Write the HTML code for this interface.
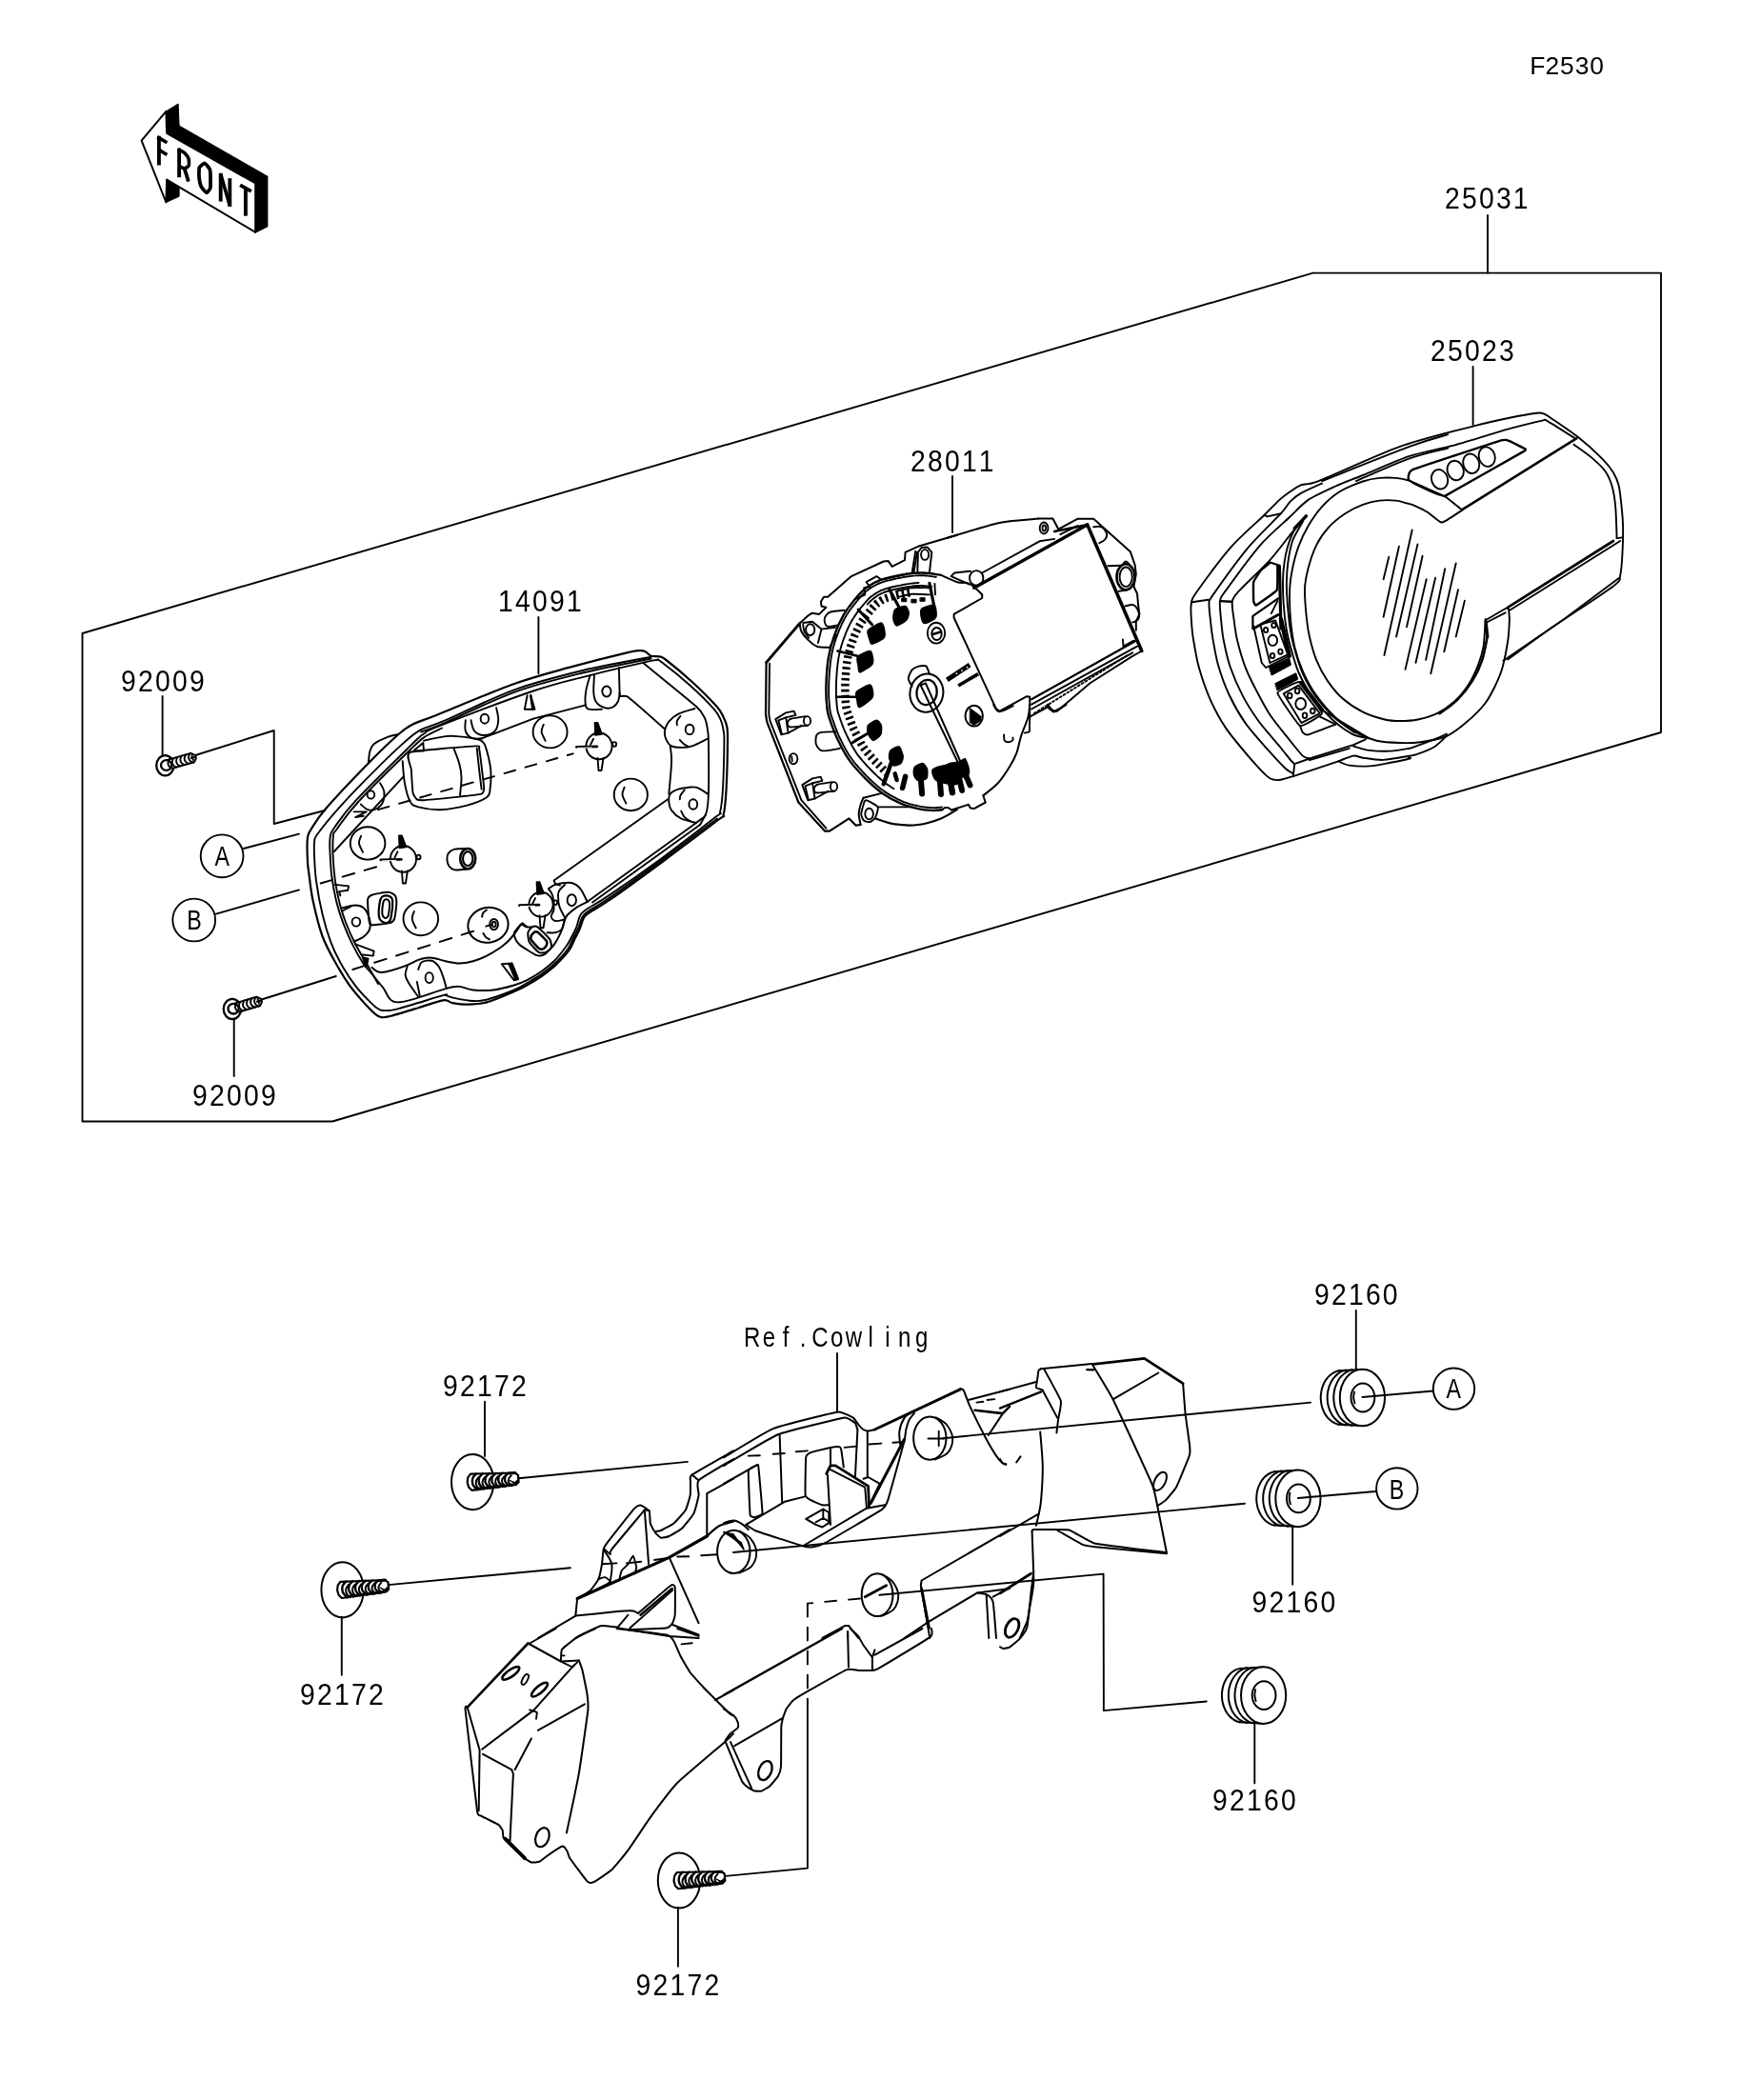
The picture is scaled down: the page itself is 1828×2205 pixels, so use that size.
<!DOCTYPE html>
<html><head><meta charset="utf-8"><title>F2530</title>
<style>html,body{margin:0;padding:0;background:#fff}svg{display:block;will-change:transform}text{font-family:"Liberation Sans",sans-serif;fill:#000}</style>
</head><body>
<svg width="1828" height="2205" viewBox="0 0 1828 2205" stroke-linecap="round" stroke-linejoin="round">
<rect width="1828" height="2205" fill="#fff"/>
<path d="M1357.8 815.1 C1356.1 815.6 1347.6 818.2 1344.9 818.7 C1342.2 819.2 1339.6 819.2 1337.7 818.7 C1335.8 818.2 1334.1 818.4 1330.5 815.1 C1326.9 811.8 1316.1 800.3 1310.4 793.6 C1304.7 786.9 1292.8 772.9 1287.4 764.9 C1282 756.9 1274 741.9 1270.2 733.3 C1266.4 724.7 1261 708.5 1258.7 700.3 C1256.4 692.1 1254.1 678.2 1253 671.5 C1251.9 664.8 1251.1 655 1250.8 650 C1250.5 645 1250.1 637.7 1250.8 634 C1251.5 630.3 1250.1 630.5 1255.8 622.5 C1261.5 614.5 1283.6 584.6 1293.2 573.7 C1302.8 562.8 1320.9 547.2 1327.6 540.7 C1334.3 534.2 1339.9 528.1 1343.4 524.9 C1346.9 521.7 1350.4 519.1 1353.5 517 C1356.6 514.9 1362.2 510.7 1366.4 509.1 C1370.6 507.5 1371.3 510.2 1385.1 504.8 C1398.9 499.4 1448.3 476.6 1470 468.9 C1491.7 461.2 1532.2 451.3 1547.5 447.3 C1562.8 443.3 1576.1 440.5 1584.9 438.7 C1593.7 436.9 1608.8 434.3 1613.6 433.7 C1618.4 433.1 1618.9 433.7 1620.8 434.4 C1622.7 435.1 1623.2 435.4 1628 438.7 C1632.8 442 1649.4 453.1 1656.7 458.8 C1664 464.5 1677.5 476.8 1682.5 481.8 C1687.5 486.8 1691.7 492.4 1694 496.2 C1696.3 500 1698.7 505.7 1699.8 510.5 C1700.9 515.3 1702 526.4 1702.6 532.1 C1703.2 537.8 1704 546.9 1704.1 553.6 C1704.2 560.3 1703.8 575.6 1703.4 582.3 C1703 589 1702.5 599.5 1701.2 603.9 C1699.9 608.3 1703.8 607.9 1694 615.4 C1684.2 622.9 1642.8 649.7 1628 660 C1613.2 670.3 1589 688.2 1583 692.5" fill="none" stroke="#000" stroke-width="1.9"/>
<path d="M1388 505.1 C1403.3 499.1 1458 477 1480 468.9 C1502 460.8 1513.6 458.3 1520.3 456.2" fill="none" stroke="#000" stroke-width="1.9"/>
<path d="M1699.8 607 L1642.3 650 L1578.4 693.8" fill="none" stroke="#000" stroke-width="1.9"/>
<path d="M1357.8 812.3 C1356.7 811.5 1352.8 810 1349.2 806.5 C1345.6 803 1336.1 792.7 1330.5 786.4 C1324.9 780.1 1312.9 766.8 1307.5 759.1 C1302.1 751.4 1294.1 737.2 1290.3 729 C1286.5 720.8 1281.1 705.4 1278.8 697.4 C1276.5 689.4 1274.2 675 1273.1 668.7 C1272 662.4 1271.3 654.6 1270.8 650 C1270.3 645.4 1269.2 637.3 1269.5 634 C1269.8 630.7 1267.6 633.3 1273.1 625.4 C1278.6 617.5 1300.8 586.6 1310.4 575.1 C1320 563.6 1339 545.7 1344.9 539.2 C1350.8 532.7 1352 529.2 1354.9 526.3 C1357.8 523.4 1362 520.2 1366.4 517.7 C1370.8 515.2 1385.1 508.9 1388 507.6" fill="none" stroke="#000" stroke-width="1.9"/>
<path d="M1327.6 540.7 L1330.5 542.4 L1344.9 539.2" fill="none" stroke="#000" stroke-width="1.9"/>
<path d="M1251.5 632.3 L1268.8 629.7" fill="none" stroke="#000" stroke-width="1.9"/>
<path d="M1281.7 631.1 L1292.5 631.7" fill="none" stroke="#000" stroke-width="2.4"/>
<path d="M1359.2 802.2 C1358.6 801.6 1357 800.4 1354.9 797.9 C1352.8 795.4 1347.8 788.9 1343.4 783.5 C1339 778.1 1327.1 764.8 1321.9 757.7 C1316.7 750.6 1308.7 738.1 1304.7 730.4 C1300.7 722.7 1294.4 708.2 1291.7 700.3 C1289 692.4 1285.9 678.2 1284.6 671.5 C1283.3 664.8 1282.5 655.4 1282 650 C1281.5 644.6 1280.3 635.2 1281 631.1 C1281.7 627 1281.8 627.4 1287.4 619.6 C1293 611.8 1314.5 582.4 1323.3 572.3 C1332.1 562.2 1346.8 549.8 1353.5 543.5 C1360.2 537.2 1367.1 529.3 1373.6 524.9 C1380.1 520.5 1394.6 514 1402.3 510.5 C1410 507 1420.6 503.2 1431 499 C1441.4 494.8 1467.1 483.1 1480 478.9 C1492.9 474.7 1513.4 471.2 1527.4 467.4 C1541.4 463.6 1572.6 453.6 1584.9 450.2 C1597.2 446.8 1613.9 442.7 1619.3 441.6 C1624.7 440.5 1620.5 439.8 1625.1 442.3 C1629.7 444.8 1650 457.9 1653.8 460.3" fill="none" stroke="#000" stroke-width="1.9"/>
<path d="M1423.9 505.1 C1433.2 501.2 1463.9 487.1 1480 481.4 C1496.1 475.6 1513.6 472.4 1520.3 470.6" fill="none" stroke="#000" stroke-width="1.9"/>
<path d="M1652.4 466.7 C1655.5 469 1665.5 475.7 1671 480.4 C1676.5 485.1 1681.8 489.7 1685.4 494.7 C1689 499.7 1690.8 504.3 1692.6 510.5 C1694.4 516.7 1695.4 523 1696.2 532.1 C1697 541.2 1697.4 559.6 1697.6 565.1" fill="none" stroke="#000" stroke-width="1.9"/>
<path d="M1697.6 565.1 L1703.3 564.4" fill="none" stroke="#000" stroke-width="1.9"/>
<path d="M1375 796.5 C1374 796.1 1370.7 796.3 1367.8 793.6 C1364.9 790.9 1358.1 782.1 1353.5 776.4 C1348.9 770.7 1338 757.4 1333.4 750.5 C1328.8 743.6 1322.5 731.4 1319 724.7 C1315.5 718 1310.2 707.4 1307.5 700.3 C1304.8 693.2 1300.5 678.2 1298.9 671.5 C1297.3 664.8 1296.2 655.4 1295.5 650 C1294.8 644.6 1293.1 635.2 1293.9 631.1 C1294.7 627 1296.5 625.3 1301.8 619.6 C1307.1 613.9 1326.1 596.1 1333.4 588.1 C1340.7 580.1 1351.4 565.4 1356.4 559.3 C1361.4 553.2 1368.8 544.4 1370.7 542.1" fill="none" stroke="#000" stroke-width="1.9"/>
<path d="M1357.8 815.1 L1359.2 802.2 L1375 796.5 L1421 782.1 L1433.9 776.4" fill="none" stroke="#000" stroke-width="1.9"/>
<path d="M1375 798.2 L1416.7 785.8" fill="none" stroke="#000" stroke-width="1.9"/>
<path d="M1357.8 815.1 C1364.1 813 1396.8 802.2 1405.2 799.3 C1413.6 796.4 1417.6 794.1 1421 793.6 C1424.4 793.1 1426.8 795.1 1431 795.7 C1435.2 796.3 1446.1 798.2 1452.6 797.9 C1459.1 797.6 1475.4 794.4 1480 793.6 C1484.6 792.8 1483.7 793.4 1487.2 792.2 C1490.7 791 1501.6 787 1505.9 784.3 C1510.2 781.6 1517.7 773.7 1519.5 772.1" fill="none" stroke="#000" stroke-width="1.9"/>
<path d="M1405.2 799.3 C1407.1 800 1411.2 802.8 1416.7 803.6 C1422.2 804.5 1431 804.9 1438.2 804.4 C1445.4 803.9 1452.8 802.1 1459.8 800.8 C1466.8 799.5 1476.9 797.5 1480 796.5 C1483.1 795.5 1478.8 795.2 1478.6 795" fill="none" stroke="#000" stroke-width="1.9"/>
<path d="M1421 783.5 C1423.9 784.2 1431.7 787 1438.2 787.9 C1444.7 788.8 1452.8 789 1459.8 788.6 C1466.8 788.2 1475.9 786.4 1480 785.7 C1484.1 785 1480.1 785.8 1484.4 784.3 C1488.7 782.8 1500.2 778.7 1505.9 776.4 C1511.6 774.1 1516.7 771.6 1518.8 770.6" fill="none" stroke="#000" stroke-width="1.9"/>
<path d="M1584.9 650 C1584.7 653.2 1584.5 664 1583.4 671.5 C1582.3 679 1579.6 693.2 1577.7 700.3 C1575.8 707.4 1573.3 713.1 1570.5 718.9 C1567.7 724.7 1563.7 733 1559 739 C1554.3 745 1545.1 753.9 1538.9 759.1 C1532.7 764.3 1524.5 770.5 1517.4 773.5 C1510.3 776.5 1498.6 778.2 1491.5 779.2 C1484.4 780.2 1476.9 780.2 1470 780 C1463.1 779.8 1452.3 779.4 1445.4 777.8 C1438.5 776.2 1430.4 772.9 1423.9 769.2 C1417.4 765.5 1408.6 759.2 1402.3 753.4 C1396 747.6 1387.4 737.7 1382.2 730.4 C1377 723.1 1371.2 712.4 1367.8 704.6 C1364.3 696.8 1361.1 686.9 1359.2 678.7 C1357.3 670.5 1355.8 659.1 1355 650 C1354.2 640.9 1353.9 626.2 1354.2 618.2 C1354.5 610.2 1355.7 603.4 1357.1 596.7 C1358.5 590 1361 580.4 1363.5 573.7 C1366 567 1369.9 558.4 1373.6 552.2 C1377.3 546 1383 537.5 1388 532.1 C1393 526.7 1400.1 520.3 1406.6 516.3 C1413 512.3 1424.7 507.7 1431 505.5 C1437.3 503.3 1443.1 502.4 1448.3 501.9 C1453.5 501.4 1460.7 501.5 1465.5 501.9 C1470.3 502.3 1477.2 503.9 1480 504.8 C1482.8 505.7 1480.5 505.7 1484.4 507.6 C1488.3 509.5 1501 515.6 1505.9 517.7 C1510.9 519.8 1515.7 520.8 1517.4 521.3" fill="none" stroke="#000" stroke-width="1.9"/>
<path d="M1370.7 542.8 C1369 544.9 1362 551.9 1359.2 556.5 C1356.4 561.1 1353.7 568.5 1352.1 573.7 C1350.5 578.9 1349.3 585.3 1348.5 590.9 C1347.7 596.5 1347.1 604.5 1347 611 C1346.9 617.5 1347.2 626.6 1347.7 634 C1348.2 641.4 1349.5 653.3 1350.6 660 C1351.7 666.7 1353 671.8 1354.9 678.7 C1356.8 685.6 1360 698 1363.5 706 C1367 714 1372.7 724.5 1377.9 731.8 C1383.1 739.1 1391.8 749 1398 754.8 C1404.2 760.6 1413.7 767.5 1419.5 770.6 C1425.3 773.7 1434.2 774.5 1436.8 775.2" fill="none" stroke="#000" stroke-width="1.9"/>
<path d="M1367.9 547.9 C1366.3 550.9 1359.4 561.5 1357.1 568 C1354.8 574.5 1353.2 584.4 1352.3 590.9 C1351.4 597.4 1351 604.5 1350.9 611 C1350.8 617.5 1351.2 626.6 1351.8 634 C1352.4 641.4 1353.6 653.3 1354.6 660 C1355.6 666.7 1356.6 671.9 1358.5 678.7 C1360.4 685.5 1363.8 697.5 1367.1 705.3 C1370.4 713.1 1375.7 723.2 1380.8 730.4 C1385.9 737.6 1394.7 747.6 1400.9 753.4 C1407.1 759.2 1419.2 766.8 1422.4 769.2" fill="none" stroke="#000" stroke-width="1.9"/>
<path d="M1371.4 541.8 L1359.2 555" fill="none" stroke="#000" stroke-width="3.4"/>
<path d="M1559.7 650 C1559.4 654.3 1558.8 671.4 1557.6 678.7 C1556.4 686 1554.2 692.8 1551.8 698.8 C1549.4 704.8 1545.5 713.3 1541.8 718.9 C1538.1 724.5 1532.4 731.7 1527.4 736.2 C1522.5 740.7 1514.6 746.2 1508.8 749.1 C1503 752 1494.5 754.3 1488.7 755.5 C1482.9 756.7 1475.2 757 1470 757 C1464.8 757 1459.8 756.9 1454 755.5 C1448.2 754.1 1437.7 750.9 1431 747.6 C1424.3 744.3 1415.1 738.2 1409.5 733.3 C1403.9 728.3 1397.8 720.6 1393.7 714.6 C1389.6 708.6 1385 700 1382.2 693.1 C1379.4 686.2 1376.5 675.2 1375 668.7 C1373.5 662.2 1372.8 657.6 1372 650 C1371.2 642.4 1369.8 626.2 1370 618.2 C1370.2 610.2 1371.8 603.6 1373.6 596.7 C1375.4 589.8 1379 578.8 1382.2 572.3 C1385.4 565.8 1390.6 558.6 1395.1 553.6 C1399.6 548.6 1407 542.8 1412.4 539.2 C1417.8 535.6 1425.6 531.9 1431 529.9 C1436.4 527.9 1443.1 526.2 1448.3 525.6 C1453.5 525 1460.7 525.1 1465.5 525.6 C1470.3 526.1 1477.2 528.5 1480 529.2 C1482.8 530 1481.6 529.3 1484.4 530.6 C1487.2 531.9 1494.6 535.2 1498.7 537.8 C1502.8 540.3 1508.8 546.2 1511.6 547.6 C1514.4 549 1513.8 548.9 1517.4 547.1 C1521 545.3 1532.6 537.3 1535.3 535.6" fill="none" stroke="#000" stroke-width="1.9"/>
<path d="M1561.9 667.2 C1561 671.5 1558.8 685.2 1556.2 693.1 C1553.6 701 1550.4 707.7 1546.1 714.6 C1541.8 721.5 1536 729 1530.3 734.7 C1524.5 740.5 1514.7 746.7 1511.6 749.1" fill="none" stroke="#000" stroke-width="2.6"/>
<path d="M1655.2 460.3 L1535.3 535.2" fill="none" stroke="#000" stroke-width="2.6"/>
<path d="M1517.4 521.3 L1534.6 534.9" fill="none" stroke="#000" stroke-width="1.9"/>
<path d="M1694 568 L1583.4 637.6" fill="none" stroke="#000" stroke-width="2.8"/>
<path d="M1701.2 568 L1585.6 640.5" fill="none" stroke="#000" stroke-width="1.9"/>
<path d="M1559.7 660 L1559.7 651.2 L1582 638.3 L1584.2 639.8 L1584.9 650" fill="none" stroke="#000" stroke-width="1.9"/>
<path d="M1561.9 653 L1580.6 643.3" fill="none" stroke="#000" stroke-width="1.9"/>
<path d="M1560.2 652.7 L1561.9 668.7" fill="none" stroke="#000" stroke-width="3"/>
<path d="M1478.6 503.3 C1478.8 502.8 1478 495.3 1482.9 493.3 C1487.8 491.3 1571.2 463.9 1576.3 462.4 C1581.4 460.9 1583.8 462.7 1584.9 463.1 C1586 463.5 1598.4 469.8 1599.2 470.3 C1600 470.8 1604.1 471.4 1600 473.9 C1595.9 476.4 1521.5 518.3 1517.4 520.6" fill="none" stroke="#000" stroke-width="2.4"/>
<path d="M1478.6 503.3 L1480.8 505.1 L1517.4 521.3" fill="none" stroke="#000" stroke-width="1.9"/>
<ellipse cx="1511.6" cy="503.3" rx="8.4" ry="10.4" fill="none" stroke="#000" stroke-width="1.9" transform="rotate(-18 1511.6 503.3)"/>
<ellipse cx="1528.2" cy="494" rx="8.4" ry="10.4" fill="none" stroke="#000" stroke-width="1.9" transform="rotate(-18 1528.2 494)"/>
<ellipse cx="1544.7" cy="486.8" rx="8.4" ry="10.4" fill="none" stroke="#000" stroke-width="1.9" transform="rotate(-18 1544.7 486.8)"/>
<ellipse cx="1561.2" cy="479.6" rx="8.4" ry="10.4" fill="none" stroke="#000" stroke-width="1.9" transform="rotate(-18 1561.2 479.6)"/>
<path d="M1332.7 590.2 L1343.4 593.8" fill="none" stroke="#000" stroke-width="2.2"/>
<path d="M1332.7 591.6 C1332.2 592 1324.1 598.5 1323.3 599.5 C1322.5 600.5 1316.6 609.4 1316.2 611 C1315.8 612.6 1316.1 629.9 1316.2 631.1 C1316.3 632.3 1317.8 636 1319 635.4 C1320.2 634.8 1339.5 621.6 1340.6 619.6 C1341.7 617.6 1341.3 595.8 1341.3 594.5" fill="none" stroke="#000" stroke-width="2.4"/>
<path d="M1343.4 594.5 L1344.9 660" fill="none" stroke="#000" stroke-width="3.2"/>
<path d="M1315.4 660 L1315.4 646.9 L1342 628.3" fill="none" stroke="#000" stroke-width="2.2"/>
<path d="M1334.8 644.1 L1341.3 631.1" fill="none" stroke="#000" stroke-width="1.9"/>
<path d="M1316.2 660 L1342 645.5" fill="none" stroke="#000" stroke-width="3"/>
<path d="M1316.2 657.2 L1324.8 696 L1329.1 701 L1353.5 688.8" fill="none" stroke="#000" stroke-width="1.9"/>
<path d="M1323.3 655.7 L1339.1 651.4 L1352.1 687.3 L1333.4 696Z" fill="none" stroke="#000" stroke-width="1.9"/>
<ellipse cx="1336.3" cy="672.3" rx="4.8" ry="5.6" fill="none" stroke="#000" stroke-width="1.9"/>
<ellipse cx="1329.1" cy="661.5" rx="2.2" ry="2.6" fill="none" stroke="#000" stroke-width="1.9"/>
<ellipse cx="1337.4" cy="656.5" rx="2.2" ry="2.6" fill="none" stroke="#000" stroke-width="1.9"/>
<ellipse cx="1336" cy="688.5" rx="2.2" ry="2.6" fill="none" stroke="#000" stroke-width="1.9"/>
<ellipse cx="1344.4" cy="684.2" rx="2.2" ry="2.6" fill="none" stroke="#000" stroke-width="1.9"/>
<path d="M1332.7 700.3 L1353.5 690.9 L1355.6 698.1 L1335.5 708.9Z" fill="#000" stroke="#000" stroke-width="1"/>
<path d="M1344.9 650 L1353.8 688.8" fill="none" stroke="#000" stroke-width="4.5"/>
<path d="M1339.1 717.5 L1360.7 706.7 L1362.8 713.2 L1341.3 724.7Z" fill="#000" stroke="#000" stroke-width="1"/>
<path d="M1341.3 727.5 C1341.3 725.2 1362.7 715 1365 716.1 C1367.3 717.2 1388 746.8 1388 749.1 C1388 751.4 1367.3 763.1 1365 762 C1362.7 760.9 1341.3 729.8 1341.3 727.5Z" fill="none" stroke="#000" stroke-width="1.9"/>
<path d="M1347.7 728.3 L1363.5 719.6 L1385.8 749.1 L1366.4 759.1Z" fill="none" stroke="#000" stroke-width="1.9"/>
<ellipse cx="1365.7" cy="739" rx="5.4" ry="6" fill="none" stroke="#000" stroke-width="1.9"/>
<ellipse cx="1354.2" cy="730.4" rx="2.3" ry="2.8" fill="none" stroke="#000" stroke-width="1.9"/>
<ellipse cx="1362.1" cy="725.4" rx="2.3" ry="2.8" fill="none" stroke="#000" stroke-width="1.9"/>
<ellipse cx="1370" cy="751.2" rx="2.3" ry="2.8" fill="none" stroke="#000" stroke-width="1.9"/>
<ellipse cx="1378.3" cy="746.5" rx="2.3" ry="2.8" fill="none" stroke="#000" stroke-width="1.9"/>
<path d="M1365 762 C1365.2 762.6 1367.2 768.4 1367.9 769.2 C1368.6 770 1370.7 772 1373.6 771.3 C1376.5 770.6 1399.9 761.5 1402.3 760.6" fill="none" stroke="#000" stroke-width="1.9"/>
<path d="M1402.3 760.6 L1385.1 752.2" fill="none" stroke="#000" stroke-width="1.9"/>
<path d="M1366.4 717.5 L1388 745.5" fill="none" stroke="#000" stroke-width="4.5"/>
<path d="M1388 745.5 L1436.8 774.9" fill="none" stroke="#000" stroke-width="1.9"/>
<path d="M1458.3 584.6 L1452.6 608.2" fill="none" stroke="#000" stroke-width="1.9"/>
<path d="M1468.9 573.7 L1452.6 647.8" fill="none" stroke="#000" stroke-width="1.9"/>
<path d="M1482.7 556.5 L1453.4 688" fill="none" stroke="#000" stroke-width="1.9"/>
<path d="M1488.5 571.4 L1466.1 668.5" fill="none" stroke="#000" stroke-width="1.9"/>
<path d="M1493.6 583.8 L1477 658.4" fill="none" stroke="#000" stroke-width="1.9"/>
<path d="M1497.7 608.2 L1475.5 702.9" fill="none" stroke="#000" stroke-width="1.9"/>
<path d="M1507.1 606.7 L1486.5 695.8" fill="none" stroke="#000" stroke-width="1.9"/>
<path d="M1517.2 597.2 L1497.1 692.9" fill="none" stroke="#000" stroke-width="1.9"/>
<path d="M1528.7 591.5 L1502.3 707.2" fill="none" stroke="#000" stroke-width="1.9"/>
<path d="M1531 619.1 L1516.3 684.3" fill="none" stroke="#000" stroke-width="1.9"/>
<path d="M1537.9 630.6 L1528.7 668.5" fill="none" stroke="#000" stroke-width="1.9"/>
<path d="M770 1523.4 C766.8 1525.3 730.1 1545.9 726.7 1548.4 C723.3 1550.9 725.1 1554.5 725 1556.1 C724.9 1557.7 725.1 1567.7 724.7 1569.9 C724.3 1572.1 721.2 1583.2 719.9 1585.4 C718.6 1587.6 709.7 1597.6 707.8 1599.2 C705.9 1600.8 695.6 1606.4 694 1607 C692.4 1607.6 687.9 1608.4 687.1 1607.8 C686.3 1607.2 683.2 1600.8 682.8 1599.2 C682.4 1597.6 682.4 1587.7 681.6 1586.3 C680.8 1584.9 673.6 1580.8 672.5 1580.6 C671.4 1580.4 668.9 1580.9 666.4 1583.7 C663.9 1586.5 641.4 1615 638.9 1618.2 C636.4 1621.4 634.2 1625 633.7 1626.8 C633.2 1628.6 632.4 1640 632 1642.3 C631.6 1644.6 629.4 1655.7 628.5 1657.8 C627.6 1659.9 621.6 1668.3 619.9 1669.9 C618.2 1671.5 607.1 1677.9 606.1 1678.5" fill="none" stroke="#000" stroke-width="2"/>
<path d="M606.1 1678.5 L604.4 1695.7" fill="none" stroke="#000" stroke-width="2"/>
<path d="M770 1532 C767 1533.9 736.6 1551.2 733.6 1554.4 C730.6 1557.6 734 1567 733.6 1569.9 C733.2 1572.8 729.9 1586 728.5 1588.9 C727.1 1591.8 718.6 1602.4 716.4 1604.4 C714.2 1606.4 704.5 1612.1 702.6 1613 C700.7 1613.9 695.2 1615 694 1614.7 C692.8 1614.4 688.5 1609.9 688 1609.5" fill="none" stroke="#000" stroke-width="2"/>
<path d="M726.7 1548.4 L733.6 1554.4" fill="none" stroke="#000" stroke-width="2"/>
<path d="M676.8 1585.4 C674.5 1588.2 644.7 1623.7 642.3 1626.8 C639.9 1629.9 640.7 1631.6 640.6 1631.9" fill="none" stroke="#000" stroke-width="2"/>
<path d="M640.6 1631.9 L634.6 1626.8" fill="none" stroke="#000" stroke-width="1.9"/>
<path d="M676.8 1585.4 L681.1 1642.3" fill="none" stroke="#000" stroke-width="2"/>
<path d="M681.6 1586.3 L676.8 1585.4" fill="none" stroke="#000" stroke-width="1.9"/>
<path d="M606.1 1678.5 L702.6 1635.4 L742.3 1613" fill="none" stroke="#000" stroke-width="3.2"/>
<path d="M742.3 1613 C744.3 1611.3 749.7 1605.3 754.3 1602.7 C758.9 1600.1 767.4 1598.4 770 1597.5" fill="none" stroke="#000" stroke-width="2.2"/>
<path d="M742.3 1613 L742.3 1568.2 L770 1552.7" fill="none" stroke="#000" stroke-width="2"/>
<path d="M633.7 1626.8 C635.1 1629.4 641.1 1636.6 642.3 1642.3 C643.4 1648 640.9 1658 640.6 1661.2" fill="none" stroke="#000" stroke-width="1.9"/>
<path d="M632 1642.3 L647.5 1641.4" fill="none" stroke="#000" stroke-width="1.9"/>
<path d="M650.1 1659.5 C650.3 1658.6 651.9 1650.6 652.7 1649.2 C653.5 1647.8 658.5 1643.6 659.5 1642.3 C660.5 1641 664 1633.4 664.7 1633.7 C665.4 1634 668.1 1644.1 668.2 1645.7 C668.3 1647.3 666.5 1652 666.4 1652.6" fill="none" stroke="#000" stroke-width="1.9"/>
<path d="M657.8 1641.4 L673.3 1639.7" fill="none" stroke="#000" stroke-width="1.9"/>
<path d="M628.5 1657.8 C629 1657.7 634.6 1655.9 635.4 1656.1 C636.2 1656.3 641.5 1660.2 640.6 1661.2 C639.7 1662.2 622.9 1670.9 621.6 1671.6" fill="none" stroke="#000" stroke-width="1.9"/>
<path d="M687.1 1638 L699.2 1636.3" fill="none" stroke="#000" stroke-width="1.9"/>
<path d="M711.2 1634.5 L723.3 1634.2" fill="none" stroke="#000" stroke-width="1.9"/>
<path d="M736.2 1633.2 L752.6 1632.3" fill="none" stroke="#000" stroke-width="1.9"/>
<path d="M604.4 1696.6 L564.8 1720" fill="none" stroke="#000" stroke-width="2"/>
<path d="M604.4 1696.6 C608.5 1696.2 639.8 1692.8 645.8 1692.3 C651.8 1691.8 662.3 1691.2 664.7 1691.4 C667.1 1691.6 669.4 1693.7 669.9 1694" fill="none" stroke="#000" stroke-width="2"/>
<path d="M703.5 1637.1 L733.6 1704.3" fill="none" stroke="#000" stroke-width="2"/>
<path d="M669.9 1694 C671.9 1692.3 702 1666.3 704.3 1664.7 C706.6 1663.1 708.4 1664.6 708.7 1666.4 C709 1668.2 708.9 1693.5 708.7 1695.7 C708.5 1697.9 706.7 1703.5 706.1 1704.3 C705.5 1705.1 701.9 1709.1 699.2 1709.5 C696.5 1709.9 661.8 1711.1 659.5 1711.2" fill="none" stroke="#000" stroke-width="2"/>
<path d="M672.5 1695.7 L705.7 1668.1" fill="none" stroke="#000" stroke-width="2.6"/>
<path d="M661.3 1709.5 L706.1 1669.9" fill="none" stroke="#000" stroke-width="1.9"/>
<path d="M649.2 1707.8 L659.5 1695.7" fill="none" stroke="#000" stroke-width="1.9"/>
<path d="M706.1 1706 L733.6 1716.4" fill="none" stroke="#000" stroke-width="2"/>
<path d="M604.4 1720 C606.1 1719.1 622.8 1710.6 625.1 1709.5 C627.4 1708.4 630 1707 632 1706.9 C634 1706.8 647.8 1708.5 649.2 1708.6" fill="none" stroke="#000" stroke-width="2"/>
<path d="M649.2 1709.5 L702.6 1718.1 L733.6 1720" fill="none" stroke="#000" stroke-width="2"/>
<path d="M760 1530.3 C763.9 1528 803.4 1503.5 811.7 1500.1 C820 1496.7 865.1 1485.9 870.3 1484.6 C875.5 1483.3 879.3 1482.4 880.6 1482.4 C881.9 1482.4 886.3 1484.1 887.5 1484.6 C888.7 1485.1 895.1 1488.1 896.1 1488.9 C897.1 1489.7 900.5 1494.9 901.3 1495.8 C902.1 1496.7 905.7 1500.5 906.5 1501 C907.3 1501.5 910.7 1502.4 911.6 1502.4 C912.5 1502.4 918 1501.1 918.5 1501" fill="none" stroke="#000" stroke-width="2"/>
<path d="M918.5 1501 L1008.1 1458.8" fill="none" stroke="#000" stroke-width="3"/>
<path d="M1008.1 1458.3 C1008.4 1458.4 1010.7 1458 1011.6 1459.6 C1012.5 1461.1 1016.5 1472.6 1018.5 1476.9 C1020.5 1481.2 1033.4 1507 1035.7 1511.3 C1038 1515.6 1044.6 1526.5 1046 1528.6 C1047.4 1530.7 1052 1535.6 1052.9 1536.3 C1053.8 1537 1056.1 1537.1 1056.4 1537.2" fill="none" stroke="#000" stroke-width="2"/>
<path d="M760 1538.9 C763.8 1536.7 808.6 1509.5 816.9 1506.2 C825.2 1502.9 879.2 1490 884.1 1488.9 C889 1487.8 890.1 1489.5 891 1489.8 C891.9 1490.1 897.3 1493.4 897.9 1494.1 C898.5 1494.8 900.2 1500.5 900.4 1501" fill="none" stroke="#000" stroke-width="2"/>
<path d="M1016.7 1470 L1060 1458.8" fill="none" stroke="#000" stroke-width="2"/>
<path d="M1023.6 1480.7 L1052.9 1484.1 L1060 1476.9" fill="none" stroke="#000" stroke-width="2.6"/>
<path d="M1052.9 1484.1 L1037.8 1507" fill="none" stroke="#000" stroke-width="2"/>
<path d="M1025.4 1472.6 L1032.3 1471.7" fill="none" stroke="#000" stroke-width="1.9"/>
<path d="M1036.6 1470 L1044.3 1469.1" fill="none" stroke="#000" stroke-width="1.9"/>
<path d="M818.6 1506.2 L821.2 1577.7" fill="none" stroke="#000" stroke-width="2"/>
<path d="M900.4 1501 L897.9 1551" fill="none" stroke="#000" stroke-width="2"/>
<path d="M910.8 1503.6 L910.8 1551" fill="none" stroke="#000" stroke-width="2"/>
<path d="M785.8 1544.1 C785.5 1546.3 787.3 1588.6 787.6 1590.6 C787.9 1592.6 791.4 1593.3 791.9 1593.2 C792.4 1593.1 800.3 1591.2 800.5 1588.9 C800.7 1586.6 796.5 1541 796.2 1538.9 C795.9 1536.8 794 1538.7 793.6 1538.9 C793.2 1539.1 786 1541.9 785.8 1544.1Z" fill="none" stroke="#000" stroke-width="2"/>
<path d="M760 1557.9 L793.6 1538.9" fill="none" stroke="#000" stroke-width="2"/>
<path d="M785.8 1528.6 L797.9 1528.2" fill="none" stroke="#000" stroke-width="1.9"/>
<path d="M811.7 1526.8 L823.8 1526" fill="none" stroke="#000" stroke-width="1.9"/>
<path d="M835.8 1524.3 L847.9 1523.4" fill="none" stroke="#000" stroke-width="1.9"/>
<path d="M886.7 1519.9 L899.6 1518.6" fill="none" stroke="#000" stroke-width="1.9"/>
<path d="M912.5 1516.5 L925.4 1515.6" fill="none" stroke="#000" stroke-width="1.9"/>
<path d="M937.5 1514.8 L949.5 1513.9" fill="none" stroke="#000" stroke-width="1.9"/>
<path d="M885.8 1540.6 C885.6 1539.5 883.5 1523 883.2 1521.7 C882.9 1520.4 881.3 1519.2 880.6 1519.1 C879.9 1519 873.7 1519.6 872 1519.9 C870.3 1520.2 852.8 1524.5 851.3 1525.1 C849.8 1525.7 846.5 1527.7 846.2 1530.3 C845.9 1532.9 845.3 1567.3 845.6 1569.9 C845.9 1572.5 850.3 1574.5 851.3 1575.1 C852.3 1575.7 862.3 1580 863.4 1580.3 C864.5 1580.6 869 1580.3 869.4 1580.3" fill="none" stroke="#000" stroke-width="2"/>
<path d="M872 1520.8 L872 1538.9" fill="none" stroke="#000" stroke-width="2"/>
<path d="M867.7 1547.5 L872 1538.9 L877.2 1538.9 L911.6 1560.4 L912.5 1582" fill="none" stroke="#000" stroke-width="2.8"/>
<path d="M872 1543.2 L908.2 1561.6 L909.9 1582.8" fill="none" stroke="#000" stroke-width="1.9"/>
<path d="M868.9 1548.4 L872 1600.9" fill="none" stroke="#000" stroke-width="2"/>
<path d="M906.5 1552.7 L911.6 1551 L923.7 1557.9 L913.4 1579.4" fill="none" stroke="#000" stroke-width="2"/>
<path d="M783.3 1600.9 L823.8 1576.8 L844.4 1571.6" fill="none" stroke="#000" stroke-width="2"/>
<path d="M783.3 1600.9 C784 1601.3 791 1606.5 794.5 1607.8 C798 1609.1 839.2 1622.3 842.7 1623.3 C846.2 1624.3 852.5 1624.4 853.9 1624.2 C855.3 1624 862.6 1622.2 866.8 1619.9 C871 1617.6 921.6 1588 925.4 1585.4 C929.2 1582.8 930.9 1579.3 932.3 1575.1 C933.7 1570.9 948.4 1517.3 949.5 1513 C950.6 1508.7 951 1502.3 951.3 1501 C951.6 1499.7 954.2 1491.6 954.7 1490.6 C955.2 1489.6 959.6 1484.2 959.9 1483.8" fill="none" stroke="#000" stroke-width="2"/>
<path d="M844.4 1622.5 L909.9 1583.7 L928.9 1580.3" fill="none" stroke="#000" stroke-width="2"/>
<path d="M914.2 1578.5 L949.5 1511.3" fill="none" stroke="#000" stroke-width="3"/>
<path d="M945.2 1516.5 C945.1 1514.2 943.7 1507.3 944.4 1502.7 C945.1 1498.1 947.2 1492.4 949.5 1488.9 C951.8 1485.5 956.8 1483.2 958.2 1482" fill="none" stroke="#000" stroke-width="2"/>
<path d="M846.2 1594.9 L864.3 1584.6 L870.3 1588 L870.3 1599.2 L863.4 1603.5 L856.5 1600.9Z" fill="none" stroke="#000" stroke-width="2"/>
<path d="M856.5 1598.3 L864.3 1594 L870.3 1597.5" fill="none" stroke="#000" stroke-width="1.9"/>
<path d="M864.3 1584.6 L864.3 1594" fill="none" stroke="#000" stroke-width="1.9"/>
<ellipse cx="976.3" cy="1510.1" rx="17.2" ry="22.7" fill="none" stroke="#000" stroke-width="2"/>
<path d="M982.6 1488.3 C984.5 1489.6 991 1492.4 994 1496 C996.9 1499.7 999.9 1505.3 1000.2 1510.1 C1000.4 1514.9 998.4 1521.4 995.3 1525.1 C992.3 1528.8 984.1 1531.2 981.9 1532.5" fill="none" stroke="#000" stroke-width="1.9"/>
<path d="M974.5 1510.5 L990.9 1510.5" fill="none" stroke="#000" stroke-width="1.9"/>
<path d="M985.7 1502.7 L985.7 1518.2" fill="none" stroke="#000" stroke-width="1.9"/>
<ellipse cx="770.3" cy="1629.4" rx="17.2" ry="22.7" fill="none" stroke="#000" stroke-width="2"/>
<path d="M776.6 1607.6 C778.5 1608.9 785 1611.7 788 1615.3 C790.9 1619 793.9 1624.6 794.2 1629.4 C794.4 1634.2 792.4 1640.7 789.3 1644.4 C786.3 1648.1 778.1 1650.5 775.9 1651.8" fill="none" stroke="#000" stroke-width="1.9"/>
<path d="M760 1599.2 C761.7 1598.8 767.1 1596.4 770.3 1596.6 C773.5 1596.8 776.4 1598.5 779 1600.1 C781.6 1601.7 784.7 1605.1 785.8 1606.1" fill="none" stroke="#000" stroke-width="2"/>
<path d="M760 1608.7 L778.1 1619.9" fill="none" stroke="#000" stroke-width="1.9"/>
<path d="M762.4 1609.2 L778.8 1621.6" fill="none" stroke="#000" stroke-width="1.9"/>
<path d="M764.8 1609.7 L779.5 1623.3" fill="none" stroke="#000" stroke-width="1.9"/>
<path d="M767.2 1610.2 L780.2 1625.1" fill="none" stroke="#000" stroke-width="1.9"/>
<path d="M769.6 1610.8 L780.9 1626.8" fill="none" stroke="#000" stroke-width="1.9"/>
<ellipse cx="921.1" cy="1674.7" rx="16.4" ry="22.4" fill="none" stroke="#000" stroke-width="2"/>
<path d="M926.5 1653.2 C928.3 1654.5 934.5 1657.2 937.3 1660.8 C940 1664.4 943 1669.9 943.2 1674.7 C943.4 1679.5 941.5 1685.8 938.6 1689.5 C935.7 1693.2 928 1695.6 925.9 1696.8" fill="none" stroke="#000" stroke-width="1.9"/>
<path d="M908.2 1676.7 L930.6 1664.7" fill="none" stroke="#000" stroke-width="2.8"/>
<path d="M903 1678.5 L847.9 1683.6" fill="none" stroke="#000" stroke-width="1.9" stroke-dasharray="12 13"/>
<path d="M847.9 1683.6 L847.9 1788.4" fill="none" stroke="#000" stroke-width="1.9" stroke-dasharray="14 11"/>
<path d="M847.9 1788.4 L847.9 1961.6 L760.5 1970" fill="none" stroke="#000" stroke-width="1.9"/>
<path d="M1060 1606.1 L967.6 1659.5 L966.8 1664.7 L976.3 1720" fill="none" stroke="#000" stroke-width="2"/>
<path d="M967.6 1668.1 L975.4 1709.5" fill="none" stroke="#000" stroke-width="3"/>
<path d="M1060 1668.1 L1026.2 1672.4 L975.4 1702.6 L949.5 1720" fill="none" stroke="#000" stroke-width="2"/>
<path d="M1026.2 1672.4 C1027 1672.6 1034.3 1673.4 1035.7 1674.2 C1037.1 1675 1041.7 1678.1 1042.6 1681.9 C1043.5 1685.7 1045.7 1716.8 1046 1720" fill="none" stroke="#000" stroke-width="2"/>
<path d="M1035.7 1675 L1038.3 1720" fill="none" stroke="#000" stroke-width="2"/>
<path d="M1042.6 1676.7 L1060 1667.3" fill="none" stroke="#000" stroke-width="2"/>
<path d="M863.4 1720 L887.5 1706.9 L891 1706.9 L901.3 1720" fill="none" stroke="#000" stroke-width="2"/>
<path d="M890.1 1712.9 L890.1 1720" fill="none" stroke="#000" stroke-width="2"/>
<path d="M1093.1 1437.2 L1146.5 1432.1" fill="none" stroke="#000" stroke-width="2"/>
<path d="M1148.2 1432.4 L1201.6 1426.4 L1242.1 1452.7" fill="none" stroke="#000" stroke-width="2.8"/>
<path d="M1242.1 1452.7 C1242.3 1454.9 1244.2 1481.2 1244.7 1485.5 C1245.2 1489.8 1248.7 1513.7 1249 1516.5 C1249.3 1519.3 1249.9 1524.7 1249 1527.7 C1248.1 1530.7 1236.9 1558.1 1235.2 1561.3 C1233.5 1564.5 1225.3 1573.8 1224 1575.1 C1222.7 1576.4 1216 1580.7 1215.4 1581.1" fill="none" stroke="#000" stroke-width="2"/>
<path d="M1093.1 1437.2 C1092.9 1437.3 1090.8 1438.1 1090.5 1439 C1090.2 1439.9 1089 1449.8 1088.8 1451 C1088.6 1452.2 1087.5 1456.4 1087.9 1457 C1088.3 1457.6 1094.3 1459.4 1094.8 1459.6" fill="none" stroke="#000" stroke-width="2"/>
<path d="M1096.5 1438.1 C1097.7 1440.3 1112.8 1467.4 1113.8 1470.8 C1114.8 1474.2 1111.5 1487.6 1111.2 1489.8 C1110.9 1492 1109.5 1503.4 1109.4 1504.4" fill="none" stroke="#000" stroke-width="2"/>
<path d="M1094.8 1460 L1110.3 1488.9" fill="none" stroke="#000" stroke-width="2"/>
<path d="M1050 1461.4 L1087.9 1451" fill="none" stroke="#000" stroke-width="2"/>
<path d="M1050 1478.6 L1093.1 1461.4" fill="none" stroke="#000" stroke-width="2.4"/>
<path d="M1141.3 1438.1 L1148.2 1438.4" fill="none" stroke="#000" stroke-width="2.4"/>
<path d="M1146.5 1432.1 C1148 1434.6 1164.7 1461.6 1168.9 1470 C1173.1 1478.4 1206.3 1550.4 1209.4 1557.9 C1212.5 1565.4 1214.4 1577.2 1215.4 1582 C1216.4 1586.8 1224.3 1627 1224.9 1630.2" fill="none" stroke="#000" stroke-width="2"/>
<path d="M1168.9 1469.1 L1216.3 1441.5" fill="none" stroke="#000" stroke-width="2"/>
<ellipse cx="1218" cy="1555.3" rx="5.6" ry="10.5" fill="none" stroke="#000" stroke-width="2" transform="rotate(28 1218 1555.3)"/>
<path d="M1092.2 1503.6 C1092.6 1509.8 1094.7 1528.7 1094.8 1540.6 C1094.9 1552.5 1093.8 1566.8 1093.1 1575.1 C1092.4 1583.4 1091.4 1586.1 1090.5 1590.6 C1089.6 1595 1088.3 1599.9 1087.9 1601.8" fill="none" stroke="#000" stroke-width="2"/>
<path d="M1090.5 1589.7 L1050 1613" fill="none" stroke="#000" stroke-width="2"/>
<path d="M1050 1532 C1050.4 1532.7 1051.6 1535.3 1052.6 1536.3 C1053.6 1537.3 1055.4 1537.7 1056 1538" fill="none" stroke="#000" stroke-width="1.9"/>
<path d="M1067.2 1535.5 L1071.5 1529.4" fill="none" stroke="#000" stroke-width="2"/>
<path d="M1083.6 1607.8 C1083.7 1607.7 1083.4 1606.2 1085.3 1606.1 C1087.2 1606 1119.2 1605.7 1122.4 1606.4 C1125.6 1607.1 1144.8 1619.5 1149.9 1620.7 C1155 1621.9 1221.2 1629.7 1224.9 1630.2" fill="none" stroke="#000" stroke-width="2"/>
<path d="M1110.3 1607 C1111.6 1607.7 1134.2 1620.7 1136.2 1621.6 C1138.2 1622.5 1145.5 1623.7 1149.9 1624.2 C1154.3 1624.7 1221.2 1630.9 1224.9 1631.3" fill="none" stroke="#000" stroke-width="1.9"/>
<path d="M1083.6 1607.8 C1083.7 1612.2 1085.5 1654.5 1085.3 1661.2 C1085.1 1668 1081.6 1685.3 1081 1688.8 C1080.4 1692.2 1079.3 1700 1078.4 1702.6 C1077.5 1705.2 1071.3 1718.5 1070.7 1720" fill="none" stroke="#000" stroke-width="2"/>
<path d="M1050 1673.3 L1082.7 1652.6" fill="none" stroke="#000" stroke-width="2"/>
<ellipse cx="1062.9" cy="1709.5" rx="6.2" ry="10.5" fill="none" stroke="#000" stroke-width="2.2" transform="rotate(28 1062.9 1709.5)"/>
<path d="M490.7 1792.7 L554.4 1725.5" fill="none" stroke="#000" stroke-width="2.6"/>
<path d="M554.4 1725.5 L588.9 1744.5 L607.9 1743.6" fill="none" stroke="#000" stroke-width="2"/>
<path d="M602.7 1748.3 L560.5 1795.6 L506.2 1836.7" fill="none" stroke="#000" stroke-width="2"/>
<path d="M490.7 1792.7 L503.6 1837.5 L502.7 1901.3" fill="none" stroke="#000" stroke-width="2"/>
<path d="M490.7 1792.7 C490.6 1792.9 488 1789 488.6 1795.3 C489.2 1801.6 500.1 1894.8 501 1901.3 C501.9 1907.8 503.2 1905.5 504.5 1906.4 C505.8 1907.3 522 1915 523.4 1915.9 C524.8 1916.8 527.4 1921.1 527.7 1921.9 C528 1922.7 528.1 1929 528.6 1929.7 C529.1 1930.4 535.1 1932.9 535.5 1933.1" fill="none" stroke="#000" stroke-width="2"/>
<path d="M507 1841.8 L537.2 1858.2 L538.9 1862.5 L535.5 1932.3" fill="none" stroke="#000" stroke-width="2"/>
<path d="M540.6 1858.2 L557.9 1825.5" fill="none" stroke="#000" stroke-width="2"/>
<path d="M564.8 1816.8 L613.9 1789.3" fill="none" stroke="#000" stroke-width="2"/>
<path d="M556.2 1795.3 L563.9 1797.9 L563 1804.8" fill="none" stroke="#000" stroke-width="1.9"/>
<ellipse cx="536.3" cy="1756.9" rx="10.6" ry="3.6" fill="none" stroke="#000" stroke-width="2.6" transform="rotate(-35 536.3 1756.9)"/>
<ellipse cx="551.3" cy="1763.4" rx="2.6" ry="6" fill="none" stroke="#000" stroke-width="1.9" transform="rotate(28 551.3 1763.4)"/>
<ellipse cx="566.5" cy="1774.1" rx="10.6" ry="3.6" fill="none" stroke="#000" stroke-width="2.6" transform="rotate(-40 566.5 1774.1)"/>
<path d="M530.3 1930.6 L551 1951.2" fill="none" stroke="#000" stroke-width="4"/>
<path d="M551 1951.2 C551.5 1951.5 556.7 1955.2 557.9 1955.5 C559.1 1955.8 565.3 1955.2 566.5 1954.7 C567.7 1954.2 571.7 1950.7 573.4 1949.5 C575.1 1948.3 587.5 1940 588.9 1939.2 C590.3 1938.4 591.8 1938.8 592.3 1939.2 C592.8 1939.6 595.3 1943.4 595.8 1944.3 C596.3 1945.2 596.8 1948.9 598.4 1951.2 C600 1953.5 614.6 1973.5 616.5 1975.4 C618.4 1977.3 621.5 1977.1 623.4 1976.2 C625.3 1975.3 639.6 1965.8 642.3 1963.3 C645 1960.8 656.3 1947 659.5 1942.6 C662.7 1938.2 681.5 1910 685.4 1904.7 C689.3 1899.4 705.5 1877.7 711.2 1872 C716.9 1866.3 756.8 1832.8 761.2 1828.9 C765.6 1825 769.3 1820.9 770 1820.3" fill="none" stroke="#000" stroke-width="2"/>
<ellipse cx="569.4" cy="1929.2" rx="6.8" ry="10.4" fill="none" stroke="#000" stroke-width="2.2" transform="rotate(20 569.4 1929.2)"/>
<path d="M607.9 1743.6 C608.1 1744.2 610.7 1750.7 611.3 1753.1 C611.9 1755.5 616.1 1776 616.5 1778.9 C616.9 1781.8 617.9 1790.7 617.3 1796.2 C616.7 1801.7 609.4 1853 607.9 1861.6 C606.4 1870.2 595.8 1920.3 594.9 1924.5" fill="none" stroke="#000" stroke-width="2"/>
<path d="M588.9 1744.5 C589 1743.5 589.1 1734 589.8 1732.4 C590.5 1730.8 595.9 1726.8 597.5 1725.5 C599.1 1724.2 607.3 1718.2 609.6 1716.9 C611.9 1715.6 623.8 1710.6 625.1 1710" fill="none" stroke="#000" stroke-width="2"/>
<path d="M647.5 1710 C651.1 1710.5 696.9 1716 700.9 1716.9 C704.9 1717.8 706.9 1722.3 707.8 1723.8 C708.7 1725.3 713.6 1737.1 714.7 1739.3 C715.8 1741.5 723.4 1754.3 725 1756.5 C726.6 1758.7 737 1770 738.8 1772 C740.6 1774 750.8 1784 752.6 1785.8 C754.4 1787.6 765.2 1798.6 766.4 1799.6 C767.6 1800.6 769.8 1801.2 770 1801.3" fill="none" stroke="#000" stroke-width="2"/>
<path d="M750.9 1785 L770 1774.6" fill="none" stroke="#000" stroke-width="2"/>
<path d="M711.2 1710 L733.6 1717.8" fill="none" stroke="#000" stroke-width="2"/>
<path d="M715.5 1726.4 L726.7 1725.2" fill="none" stroke="#000" stroke-width="1.9"/>
<path d="M556.2 1725.5 L583.7 1710" fill="none" stroke="#000" stroke-width="2"/>
<path d="M590.6 1738.4 L594.1 1738.4" fill="none" stroke="#000" stroke-width="1.9" stroke-dasharray="2 2"/>
<path d="M590.6 1745.3 L601 1750.5 L606.1 1745.3" fill="none" stroke="#000" stroke-width="1.9"/>
<path d="M760 1779.8 L884.1 1710" fill="none" stroke="#000" stroke-width="2.4"/>
<path d="M760 1794.4 C761 1795.1 768.8 1799.9 770.3 1801.3 C771.8 1802.7 774.2 1806.9 774.6 1808.2 C775 1809.5 775.4 1813.1 774.6 1814.3 C773.8 1815.5 768.2 1819 766.9 1820.3 C765.6 1821.6 762.2 1826.5 761.7 1827.2" fill="none" stroke="#000" stroke-width="2"/>
<path d="M822 1803.9 C822.2 1803.4 825 1795.3 825.5 1794.4 C826 1793.5 831.5 1786.6 832.4 1785.8 C833.3 1785 839.9 1780.5 842.7 1778.9 C845.5 1777.3 886.3 1754.3 889.2 1753.1 C892.1 1751.8 899.9 1753.9 901.3 1753.9 C902.7 1753.9 915.8 1754 916.8 1753.9 C917.8 1753.8 919 1754 922 1752.2 C925 1750.4 974.3 1720.7 977.1 1718.6 C979.9 1716.5 978 1710.4 978 1710" fill="none" stroke="#000" stroke-width="2"/>
<path d="M890.1 1713.4 L891 1750.5" fill="none" stroke="#000" stroke-width="2"/>
<path d="M892.7 1710 C893.3 1710.6 899.2 1715.5 900.4 1716.9 C901.5 1718.3 905.2 1725.3 906.5 1727.2 C907.8 1729.1 915.1 1739.1 915.9 1740.2" fill="none" stroke="#000" stroke-width="2"/>
<path d="M918.5 1732.4 L915.9 1740.2 L915.9 1753.1" fill="none" stroke="#000" stroke-width="2"/>
<path d="M918.5 1737.6 L968.5 1710" fill="none" stroke="#000" stroke-width="2"/>
<path d="M822 1803.9 L771.2 1833.2" fill="none" stroke="#000" stroke-width="2"/>
<path d="M822 1803.9 C821.9 1804.5 820.4 1810 820.3 1813.4 C820.2 1816.8 820.2 1851.3 820 1854.7 C819.8 1858.1 817.7 1863.7 816.9 1865.1 C816.1 1866.5 809.4 1874.4 808.2 1875.4 C807 1876.4 800.6 1880.3 799.6 1880.6 C798.6 1880.9 793.6 1880.8 792.7 1880.6 C791.8 1880.4 786.7 1877.8 785.8 1877.1 C784.9 1876.4 780.6 1873.5 779 1870.3 C777.4 1867.1 762.9 1831.7 761.7 1828.9" fill="none" stroke="#000" stroke-width="2"/>
<path d="M766.9 1828.9 L789.3 1878" fill="none" stroke="#000" stroke-width="1.9"/>
<ellipse cx="803.4" cy="1859.1" rx="6.6" ry="10.4" fill="none" stroke="#000" stroke-width="2.4" transform="rotate(22 803.4 1859.1)"/>
<path d="M1082.7 1651.7 L1050 1672.4" fill="none" stroke="#000" stroke-width="2"/>
<path d="M1085.3 1650 C1085.1 1651.7 1083.3 1665.8 1082.7 1670.7 C1082.1 1675.6 1079.4 1704.4 1078.4 1708.6 C1077.4 1712.8 1072.2 1718.9 1070.7 1720.6 C1069.2 1722.3 1061.7 1728.4 1060.3 1729.3 C1058.9 1730.2 1054.3 1731 1053.4 1731 C1052.5 1731 1050.3 1729.4 1050 1729.3" fill="none" stroke="#000" stroke-width="2"/>
<ellipse cx="1062.4" cy="1709.4" rx="6.4" ry="10.4" fill="none" stroke="#000" stroke-width="2.4" transform="rotate(25 1062.4 1709.4)"/>
<path d="M174.4 116.9 L187.1 109 L188.1 132 L280.9 185.2 L268.2 192.5 L175.1 139.8Z" fill="#000" stroke="#000" stroke-width="1"/>
<path d="M268.2 192.5 L280.9 185.2 L280.9 237.9 L268.2 244.3Z" fill="#000" stroke="#000" stroke-width="1"/>
<path d="M175.1 188.6 L188.1 196.9 L188.1 206.2 L174.4 212.5Z" fill="#000" stroke="#000" stroke-width="1"/>
<path d="M148.6 147.6 L174.4 116.9 L175.1 139.8 L268.2 192.5 L268.2 243.8 L175.1 188.6 L174.4 212.5Z" fill="#fff" stroke="#000" stroke-width="2"/>
<path d="M166.9 142.7 L166.9 173.5" fill="none" stroke="#000" stroke-width="3.9" stroke-linecap="butt" stroke-linejoin="miter"/>
<path d="M165.2 143.9 L175.4 149.8" fill="none" stroke="#000" stroke-width="3.6" stroke-linecap="butt" stroke-linejoin="miter"/>
<path d="M166.9 157.4 L175.4 162.5" fill="none" stroke="#000" stroke-width="3.6" stroke-linecap="butt" stroke-linejoin="miter"/>
<path d="M188.1 155.6 L188.1 186.2" fill="none" stroke="#000" stroke-width="3.9" stroke-linecap="butt" stroke-linejoin="miter"/>
<path d="M187.1 156.9 C187.7 157.2 193.1 160 194 160.8 C194.9 161.7 197.8 166 198.2 167.1 C198.5 168.2 198.5 173.2 198.2 174 C197.8 174.8 194.8 176.6 194 176.7 C193.2 176.8 189 175 188.6 174.8" fill="none" stroke="#000" stroke-width="3.6" stroke-linecap="butt"/>
<path d="M193.5 176.4 L197.9 190.6" fill="none" stroke="#000" stroke-width="3.8" stroke-linecap="butt" stroke-linejoin="miter"/>
<path d="M215 171.5 C215.9 171.7 219.8 176.6 220.3 177.9 C220.8 179.2 221 186 221 187.6 C221 189.2 221.1 196.2 220.8 197.4 C220.5 198.6 217.7 202.4 216.9 202.3 C216.1 202.2 212.2 197.7 211.5 196.4 C210.8 195.1 209.3 188.4 209.1 186.7 C208.9 185 208.8 177.2 209.3 175.9 C209.8 174.6 214.1 171.3 215 171.5Z" fill="none" stroke="#000" stroke-width="3.8"/>
<path d="M231.7 181.8 L231.7 211.6" fill="none" stroke="#000" stroke-width="3.9" stroke-linecap="butt" stroke-linejoin="miter"/>
<path d="M241.3 187.2 L241.3 216.9" fill="none" stroke="#000" stroke-width="3.9" stroke-linecap="butt" stroke-linejoin="miter"/>
<path d="M231.7 182.8 L241.3 216" fill="none" stroke="#000" stroke-width="3.6" stroke-linecap="butt" stroke-linejoin="miter"/>
<path d="M257.9 197.4 L257.9 226.7" fill="none" stroke="#000" stroke-width="3.9" stroke-linecap="butt" stroke-linejoin="miter"/>
<path d="M252.1 194.3 L263.8 200.8" fill="none" stroke="#000" stroke-width="3.8" stroke-linecap="butt" stroke-linejoin="miter"/>
<path d="M1005 561.7 L963.9 573.8 L950.6 579.8 L950 588.2 L936.7 594.9 L932.5 588.9 L927.7 589.5 L893.9 605.1 L869.2 626.8 L865 626.8 L861.9 631.7 L862.5 636.5 L867.4 637.7 L860.1 644.9 L852.9 643.7 L848.1 646.7 L839.6 654.6" fill="none" stroke="#000" stroke-width="2"/>
<path d="M839.6 654.6 L804.6 695.6" fill="none" stroke="#000" stroke-width="3"/>
<path d="M804.6 695.6 L804 750 L805.3 758.1 L838.4 842.5 L866.2 872.7 L871 872.7 L891.5 859.4 L898.7 866.7 L903.6 866" fill="none" stroke="#000" stroke-width="2.2"/>
<path d="M808 696.8 L807.3 750 L808.5 756.9 L841.4 840.1 L867.4 869.7" fill="none" stroke="#000" stroke-width="1.9"/>
<path d="M995 564.7 C1002.2 562.6 1036.6 551.7 1049.3 549 C1062 546.3 1084.8 545.2 1090.3 544.6" fill="none" stroke="#000" stroke-width="2"/>
<path d="M1090.3 544.6 L1105.4 544.6 L1111.4 555.7" fill="none" stroke="#000" stroke-width="2"/>
<ellipse cx="1096.1" cy="554.5" rx="4.4" ry="6" fill="none" stroke="#000" stroke-width="1.9"/>
<ellipse cx="1096.3" cy="554.5" rx="1.8" ry="3" fill="none" stroke="#000" stroke-width="1.9"/>
<path d="M988 603.9 C985 603.5 975.9 601.7 969.9 601.5 C963.9 601.3 959.2 601.5 951.8 602.7 C944.4 603.9 932.3 606.3 925.3 608.7 C918.3 611.1 914 614 909.6 617.2 C905.2 620.4 902.7 623.2 898.7 628 C894.7 632.8 889.3 639.5 885.5 646.1 C881.7 652.7 878.4 660.3 875.8 667.8 C873.2 675.2 871.2 681.9 869.8 690.8 C868.4 699.6 867.6 711.9 867.4 720.9 C867.2 729.9 867.8 738.8 868.6 745 C869.4 751.2 870.4 752.9 872.2 758.1 C874 763.3 876.2 769.6 879.4 776.2 C882.6 782.8 886.5 790.9 891.5 797.9 C896.5 804.9 903.8 812.6 909.6 818.4 C915.4 824.2 920.5 828.7 926.5 832.9 C932.5 837.1 939.6 841 945.8 843.7 C952 846.4 958.4 847.9 963.8 849.1 C969.2 850.3 974.1 850.7 978.3 850.9 C982.5 851.1 987.4 850.4 989.2 850.3" fill="none" stroke="#000" stroke-width="2.4"/>
<path d="M982.9 605.9 C982.3 605.8 980.8 605.6 979.7 605.4 C978.6 605.2 977.4 605 976.2 604.9 C975.1 604.8 973.9 604.6 972.9 604.5 C971.8 604.4 970.8 604.3 969.8 604.3 C968.8 604.3 967.9 604.2 967 604.2 C966 604.2 965.1 604.2 964.2 604.3 C963.3 604.3 962.5 604.3 961.5 604.4 C960.6 604.4 959.7 604.5 958.7 604.6 C957.8 604.7 956.8 604.8 955.7 605 C954.6 605.1 953.5 605.3 952.2 605.5 C951 605.7 949.7 605.9 948.2 606.1 C946.8 606.4 945.3 606.7 943.7 607 C942.2 607.3 940.6 607.6 939 608 C937.4 608.3 935.8 608.7 934.3 609.1 C932.8 609.4 931.3 609.8 930 610.2 C928.6 610.6 927.3 611 926.2 611.4 C925.1 611.7 924.1 612.1 923.1 612.5 C922.1 612.9 921.2 613.4 920.3 613.8 C919.5 614.2 918.6 614.6 917.9 615.1 C917.1 615.5 916.3 616 915.6 616.5 C914.8 616.9 914.1 617.4 913.4 617.9 C912.7 618.4 911.9 618.9 911.3 619.5 C910.6 620 909.9 620.5 909.3 621 C908.7 621.5 908.1 621.9 907.6 622.4 C907 622.9 906.5 623.4 906 624 C905.5 624.5 904.9 625.1 904.4 625.7 C903.9 626.3 903.3 626.9 902.7 627.6 C902.1 628.3 901.5 629 900.9 629.8 C900.2 630.6 899.5 631.4 898.8 632.3 C898 633.2 897.3 634.1 896.5 635.1 C895.8 636 895 637 894.3 638 C893.5 639.1 892.8 640.1 892 641.1 C891.3 642.2 890.6 643.2 889.9 644.3 C889.2 645.4 888.5 646.4 887.9 647.5 C887.3 648.6 886.7 649.7 886.1 650.8 C885.5 651.9 885 653.1 884.4 654.2 C883.8 655.4 883.3 656.6 882.8 657.8 C882.2 659 881.7 660.2 881.2 661.4 C880.7 662.6 880.2 663.8 879.8 665.1 C879.3 666.3 878.9 667.5 878.4 668.7 C878 669.9 877.6 671.2 877.2 672.4 C876.8 673.5 876.4 674.7 876.1 675.9 C875.7 677.1 875.4 678.3 875 679.5 C874.7 680.7 874.4 681.9 874.1 683.2 C873.8 684.5 873.6 685.7 873.3 687.1 C873 688.4 872.8 689.8 872.6 691.2 C872.3 692.7 872.1 694.2 871.9 695.8 C871.7 697.4 871.6 699.1 871.4 700.8 C871.2 702.5 871.1 704.3 870.9 706 C870.8 707.7 870.7 709.5 870.6 711.2 C870.5 712.9 870.4 714.6 870.3 716.3 C870.3 717.9 870.2 719.4 870.2 721 C870.2 722.5 870.2 723.9 870.2 725.4 C870.2 726.8 870.2 728.3 870.2 729.7 C870.3 731.1 870.3 732.5 870.4 733.9 C870.5 735.2 870.6 736.5 870.7 737.8 C870.8 739 870.9 740.3 871 741.4 C871.1 742.5 871.2 743.7 871.4 744.6 C871.5 745.6 871.6 746.5 871.8 747.3 C871.9 748.1 872.1 748.7 872.2 749.3 C872.4 750 872.5 750.5 872.7 751.1 C872.9 751.7 873.1 752.2 873.3 752.8 C873.5 753.5 873.7 754.1 874 754.8 C874.3 755.5 874.5 756.3 874.8 757.2 C875.1 758 875.5 758.9 875.8 759.9 C876.1 760.8 876.4 761.7 876.8 762.7 C877.1 763.6 877.5 764.6 877.9 765.6 C878.3 766.6 878.7 767.6 879.1 768.6 C879.5 769.7 880 770.7 880.4 771.8 C880.9 772.8 881.4 773.9 881.9 775 C882.5 776.1 883 777.2 883.6 778.4 C884.1 779.5 884.7 780.7 885.3 781.9 C886 783.1 886.6 784.4 887.2 785.6 C887.9 786.8 888.6 788 889.3 789.2 C890 790.4 890.7 791.6 891.4 792.8 C892.2 794 893 795.1 893.8 796.3 C894.6 797.4 895.5 798.6 896.4 799.7 C897.3 800.9 898.3 802.1 899.3 803.2 C900.3 804.4 901.3 805.6 902.3 806.7 C903.4 807.9 904.4 809 905.5 810.1 C906.5 811.2 907.6 812.3 908.6 813.4 C909.6 814.4 910.6 815.5 911.6 816.4 C912.5 817.4 913.5 818.3 914.4 819.2 C915.3 820.1 916.2 820.9 917.1 821.7 C918 822.6 918.9 823.4 919.8 824.1 C920.7 824.9 921.6 825.7 922.5 826.4 C923.4 827.1 924.3 827.8 925.2 828.5 C926.2 829.2 927.1 829.9 928.1 830.6 C929.1 831.3 930.1 832 931.1 832.6 C932.1 833.3 933.2 833.9 934.2 834.6 C935.3 835.2 936.4 835.8 937.4 836.4 C938.5 837 939.6 837.6 940.7 838.1 C941.7 838.7 942.8 839.2 943.8 839.7 C944.9 840.2 945.9 840.7 946.9 841.1 C947.9 841.6 948.9 842 949.9 842.3 C950.9 842.7 951.9 843 952.9 843.4 C953.9 843.7 954.9 844 955.9 844.3 C956.9 844.6 957.8 844.8 958.8 845.1 C959.8 845.3 960.7 845.5 961.7 845.7 C962.6 846 963.5 846.2 964.4 846.4 C965.3 846.6 966.1 846.7 967 846.9 C967.8 847 968.6 847.2 969.4 847.3 C970.2 847.4 971 847.5 971.8 847.6 C972.6 847.7 973.4 847.8 974.1 847.8 C974.9 847.9 975.6 847.9 976.3 848 C977 848 977.7 848.1 978.4 848.1 C979.1 848.1 979.7 848.1 980.4 848.1 C981.1 848.1 981.8 848.1 982.5 848.1 C983.1 848 983.8 848 984.4 847.9 C985.1 847.9 985.7 847.8 986.2 847.8 C986.8 847.7 987.3 847.6 987.8 847.6 C988.3 847.6 988.8 847.5 989 847.5" fill="none" stroke="#000" stroke-width="1.9"/>
<path d="M897.5 629.3 L908.4 624.4 L907.2 617.2 L913.2 616 L909.6 611.2 L920.4 605.1 L925.3 608.8 L951.8 602.7" fill="none" stroke="#000" stroke-width="1.9"/>
<path d="M989.2 850.3 L992 848 L995.5 848 L999 850.5" fill="none" stroke="#000" stroke-width="2"/>
<path d="M999 850.5 L1016.7 844.9" fill="none" stroke="#000" stroke-width="2"/>
<path d="M1016.7 844.9 L1019 848.5 L1022.7 849.1 L1034.8 842.5 L1033.2 838 L1032.4 835.3" fill="none" stroke="#000" stroke-width="2"/>
<path d="M1032.4 835.3 C1035 833.1 1043.5 827 1048.1 822 C1052.7 817 1056.9 810.3 1060.1 805.1 C1063.3 799.9 1065.4 796.1 1067.4 790.7 C1069.4 785.3 1070.2 778.8 1072.2 772.6 C1074.2 766.4 1077.9 758.7 1079.4 753.3 C1080.9 747.9 1080.9 743.6 1081.2 740 C1081.5 736.4 1081.2 733.2 1081.2 731.8" fill="none" stroke="#000" stroke-width="2"/>
<path d="M1081.2 753.3 L1080.9 768.3 L1075.8 769.6" fill="none" stroke="#000" stroke-width="1.9"/>
<path d="M988 603.9 C990.8 605.1 1000.2 609.8 1005 611.2 C1009.8 612.6 1013.3 611.2 1016.7 612.4 C1020.1 613.6 1022.8 616.4 1025.2 618.4 C1027.6 620.4 1030.2 623.4 1031.2 624.4" fill="none" stroke="#000" stroke-width="2"/>
<path d="M1031.2 624.4 L1031.2 628 L1001.6 644.9 L1001.6 648.5 L1045.7 743.8 L1049.3 746.8 L1078.2 731.2 L1081.2 731.8" fill="none" stroke="#000" stroke-width="2"/>
<path d="M964.6 611.9 C964.2 612 962.9 612 962 612.1 C961.2 612.1 960.4 612.2 959.5 612.3 C958.6 612.3 957.7 612.5 956.7 612.6 C955.7 612.7 954.6 612.9 953.5 613.1 C952.3 613.3 951 613.5 949.6 613.7 C948.2 614 946.7 614.3 945.2 614.6 C943.7 614.8 942.2 615.2 940.6 615.5 C939.1 615.8 937.6 616.2 936.1 616.5 C934.7 616.9 933.3 617.3 932 617.6 C930.8 618 929.7 618.3 928.7 618.6 C927.7 619 926.8 619.3 926 619.7 C925.2 620 924.4 620.3 923.7 620.7 C923 621.1 922.3 621.4 921.7 621.8 C921 622.2 920.4 622.5 919.7 623 C919.1 623.4 918.4 623.8 917.8 624.3 C917.1 624.7 916.4 625.2 915.8 625.6 C915.2 626.1 914.7 626.5 914.1 626.9 C913.6 627.4 913.2 627.7 912.8 628.1 C912.3 628.5 911.9 628.9 911.5 629.4 C911 629.8 910.6 630.3 910.1 630.8 C909.6 631.4 909.1 631.9 908.6 632.6 C908 633.2 907.4 634 906.8 634.7 C906.1 635.5 905.4 636.3 904.7 637.2 C904 638 903.3 638.9 902.6 639.8 C901.9 640.8 901.1 641.7 900.4 642.7 C899.7 643.6 899 644.6 898.3 645.6 C897.6 646.5 897 647.5 896.4 648.5 C895.7 649.4 895.2 650.4 894.6 651.4 C894 652.3 893.5 653.3 892.9 654.4 C892.4 655.4 891.9 656.5 891.3 657.6 C890.8 658.7 890.3 659.8 889.8 660.9 C889.3 662 888.8 663.2 888.3 664.3 C887.9 665.5 887.4 666.6 887 667.8 C886.5 669 886.1 670.1 885.7 671.3 C885.3 672.5 884.9 673.6 884.5 674.8 C884.1 675.9 883.8 677 883.4 678.1 C883.1 679.3 882.8 680.4 882.5 681.5 C882.2 682.6 881.9 683.7 881.6 684.9 C881.4 686.1 881.1 687.3 880.9 688.5 C880.6 689.8 880.4 691.1 880.2 692.4 C880 693.8 879.8 695.2 879.6 696.8 C879.4 698.3 879.2 699.9 879.1 701.5 C878.9 703.2 878.7 704.9 878.6 706.6 C878.5 708.3 878.4 710 878.3 711.7 C878.2 713.3 878.1 715 878 716.6 C878 718.2 877.9 719.7 877.9 721.1 C877.9 722.6 877.9 723.9 877.9 725.3 C877.9 726.7 877.9 728.1 877.9 729.5 C878 730.8 878 732.2 878.1 733.4 C878.2 734.7 878.3 736 878.4 737.2 C878.5 738.4 878.6 739.6 878.7 740.6 C878.8 741.7 878.9 742.7 879 743.6 C879.1 744.5 879.2 745.3 879.4 745.9 C879.5 746.6 879.6 747 879.7 747.5 C879.8 748 879.9 748.4 880.1 748.9 C880.2 749.3 880.4 749.7 880.6 750.3 C880.8 750.9 881 751.5 881.2 752.2 C881.5 752.9 881.8 753.8 882.1 754.6 C882.4 755.5 882.7 756.4 883 757.3 C883.4 758.2 883.7 759.1 884 760 C884.3 760.9 884.7 761.9 885.1 762.8 C885.4 763.8 885.8 764.7 886.2 765.7 C886.6 766.7 887 767.6 887.5 768.6 C887.9 769.6 888.4 770.6 888.9 771.7 C889.4 772.7 889.9 773.9 890.5 775 C891 776.1 891.6 777.3 892.2 778.4 C892.8 779.6 893.4 780.8 894 781.9 C894.6 783.1 895.3 784.2 895.9 785.3 C896.6 786.5 897.2 787.6 897.9 788.6 C898.6 789.7 899.3 790.7 900 791.8 C900.8 792.8 901.6 793.9 902.4 795 C903.3 796 904.2 797.1 905.1 798.2 C906.1 799.4 907.1 800.5 908.1 801.6 C909.1 802.7 910.1 803.8 911.1 804.9 C912.1 805.9 913.1 807 914.1 808 C915.1 809 916.1 810 917 811 C918 811.9 918.9 812.8 919.7 813.6 C920.6 814.5 921.5 815.3 922.3 816.1 C923.2 816.8 924 817.6 924.8 818.3 C925.7 819 926.5 819.7 927.3 820.4 C928.2 821.1 929 821.7 929.9 822.4 C930.7 823 931.6 823.7 932.5 824.3 C933.4 824.9 934.3 825.5 935.3 826.2 C936.3 826.8 937.8 827.7 938.4 828.1" fill="none" stroke="#000" stroke-width="1.9"/>
<path d="M978.1 616 C977.6 615.9 975.9 615.6 974.9 615.5 C973.8 615.4 972.8 615.2 971.9 615.2 C970.9 615.1 970.1 615 969.3 615 C968.4 614.9 967.7 614.9 966.9 614.9 C966.1 614.9 965.3 614.9 964.5 615 C963.7 615 963 615 962.2 615 C961.4 615.1 960.6 615.2 959.8 615.2 C958.9 615.3 958.1 615.4 957.1 615.6 C956.1 615.7 955.1 615.8 953.9 616 C952.8 616.2 951.5 616.4 950.1 616.7 C948.8 616.9 947.3 617.2 945.8 617.5 C944.3 617.8 942.8 618.1 941.3 618.4 C939.8 618.8 938.3 619.1 936.9 619.4 C935.5 619.8 934.1 620.2 932.9 620.5 C931.7 620.8 930.6 621.2 929.6 621.5 C928.7 621.8 927.9 622.1 927.2 622.4 C926.4 622.7 925.7 623.1 925 623.4 C924.4 623.7 923.7 624 923.1 624.4 C922.5 624.7 921.9 625.1 921.3 625.5 C920.7 625.9 920.1 626.3 919.5 626.7 C918.9 627.2 918.2 627.6 917.6 628.1 C917 628.5 916.5 628.9 916 629.3 C915.6 629.7 915.2 630 914.8 630.3 C914.4 630.7 914 631.1 913.6 631.5 C913.2 631.9 912.8 632.3 912.3 632.8 C911.9 633.4 911 634.3 910.7 634.6" fill="none" stroke="#000" stroke-width="1.9"/>
<path d="M955.2 622.4 L951.3 623.1 L947.1 623.9 L942.7 624.8 L938.4 625.8 L934.6 626.7 L931.7 627.6 L929.6 628.4 L927.9 629.2 L926.3 630 L924.8 631 L923.2 632.1 L921.5 633.3 L920.1 634.3 L919.2 635.2 L918.2 636 L917.1 637.2 L915.8 638.8 L914.1 640.8 L912.1 643.2 L910.1 645.7 L908 648.3 L906.1 651 L904.3 653.6 L902.8 656.1 L901.3 658.8 L899.9 661.7 L898.5 664.7 L897.1 667.9 L895.9 671.2 L894.7 674.5 L893.5 677.7 L892.5 680.9 L891.7 684 L890.9 687.1 L890.2 690.3 L889.6 693.9 L889 697.9 L888.5 702.5 L888.1 707.3 L887.8 712.2 L887.5 717 L887.4 721.3 L887.4 725.3 L887.4 729.2 L887.6 732.9 L887.8 736.5 L888.1 739.7 L888.4 742.4 L888.7 744.3 L888.9 745.3 L889.1 746.1 L889.5 747.2 L890.2 749 L891.1 751.5 L892 754.1 L892.9 756.8 L893.9 759.4 L895 762.1 L896.1 764.8 L897.5 767.6 L899 770.8 L900.7 774.1 L902.4 777.4 L904.1 780.6 L905.9 783.5 L907.8 786.3 L909.9 789.1 L912.4 792.1 L915.1 795.2 L918 798.4 L920.9 801.4 L923.7 804.2 L926.3 806.8 L928.7 809.1 L931 811.1 L933.6 813.2" fill="none" stroke="#000" stroke-width="8.5" stroke-dasharray="2.6 3.3" stroke-linecap="butt"/>
<path d="M941 620.8 C943.8 620.2 952 617.8 957.8 617.2 C963.6 616.6 972.9 617.2 975.9 617.2" fill="none" stroke="#000" stroke-width="1.9"/>
<path d="M943.4 626.8 C945.8 626.3 952.4 624.2 957.8 623.8 C963.2 623.4 972.9 624.3 975.9 624.4" fill="none" stroke="#000" stroke-width="1.9"/>
<path d="M933.7 618.4 L943.4 636.5" fill="none" stroke="#000" stroke-width="3.2"/>
<path d="M975.9 612.4 L980.8 636.5" fill="none" stroke="#000" stroke-width="3.2"/>
<path d="M981.4 613 L982 624.4" fill="none" stroke="#000" stroke-width="1.9"/>
<path d="M947 628.1 L951.8 628.1 L951.8 631.7 L947 631.7Z" fill="#000" stroke="#000" stroke-width="1"/>
<path d="M957.2 629.3 L962.1 629.3 L962.1 632.9 L957.2 632.9Z" fill="#000" stroke="#000" stroke-width="1"/>
<path d="M966.3 627.7 L971.1 627.7 L971.1 631.3 L966.3 631.3Z" fill="#000" stroke="#000" stroke-width="1"/>
<path d="M939.7 640.1 C941.2 638.5 948.9 636.1 950.6 636.5 C952.3 636.9 954.1 642 954.2 643.7 C954.3 645.4 953.3 649.4 951.8 651 C950.3 652.6 943.2 657.1 941.6 657 C940 656.9 938.1 651.8 937.9 649.8 C937.7 647.8 938.2 641.7 939.7 640.1Z" fill="#000" stroke="#000" stroke-width="1.5"/>
<path d="M968.1 638.9 C969.7 637.6 979 634.6 980.8 635.3 C982.6 636 983.1 643.2 983.2 644.9 C983.3 646.6 982.9 648.7 981.4 649.8 C979.9 650.9 972.2 655 970.5 654.6 C968.8 654.2 967.2 647.9 966.9 646.1 C966.6 644.3 966.5 640.2 968.1 638.9Z" fill="#000" stroke="#000" stroke-width="1.5"/>
<path d="M911.4 661.8 C912.9 659.9 923.3 653.9 925.3 654 C927.3 654.1 928.6 661.1 928.9 663 C929.2 664.9 929.3 668.7 927.7 670.3 C926.1 671.9 917.4 676.3 915.6 676.3 C913.8 676.3 913.1 672 912.6 670.3 C912.1 668.6 909.9 663.7 911.4 661.8Z" fill="#000" stroke="#000" stroke-width="1.5"/>
<path d="M900.5 689.6 C902 687.8 912 682.7 913.8 683.5 C915.6 684.3 917.5 694.2 916.2 696.8 C914.9 699.4 904.8 705.6 903 705.9 C901.2 706.2 901.4 701.1 901.1 699.2 C900.8 697.3 899 691.4 900.5 689.6Z" fill="#000" stroke="#000" stroke-width="1.5"/>
<path d="M899.3 726.4 C900.9 724.5 911.8 718.5 913.8 719.1 C915.8 719.7 917.5 729.1 916.2 731.8 C914.9 734.5 904.3 742.2 902.4 742.6 C900.5 743 900.3 737.3 899.9 735.4 C899.5 733.5 897.7 728.3 899.3 726.4Z" fill="#000" stroke="#000" stroke-width="1.5"/>
<path d="M911.4 761.7 C912.4 760.1 918.8 756.3 920.4 756.3 C922 756.3 924.8 759.9 925.3 761.7 C925.8 763.5 925.7 769.6 924.7 771.4 C923.7 773.2 918.4 777.5 916.8 777.4 C915.2 777.3 912 772 911.4 770.2 C910.8 768.4 910.4 763.3 911.4 761.7Z" fill="#000" stroke="#000" stroke-width="1.5"/>
<path d="M934.9 788.2 C936.1 786.7 942.4 783.3 944 784 C945.6 784.7 948 792.3 948.2 794.3 C948.4 796.3 946.9 800.4 945.8 801.5 C944.7 802.6 939.9 804.5 938.5 803.9 C937.1 803.3 934.1 798.5 933.7 796.7 C933.3 794.9 933.7 789.7 934.9 788.2Z" fill="#000" stroke="#000" stroke-width="1.5"/>
<path d="M960.2 805.7 C961.3 804.3 967.1 801.3 968.7 801.5 C970.3 801.7 973 805.7 973.5 807.5 C974 809.3 974 815.8 972.9 817.2 C971.8 818.6 965.5 820 963.9 819.6 C962.3 819.2 960 815.2 959.6 813.6 C959.2 812 959.1 807.1 960.2 805.7Z" fill="#000" stroke="#000" stroke-width="1.5"/>
<path d="M978.9 808.8 C979.5 807 985 805.2 988 804.5 C991 803.8 1003 800.5 1005 802.7 C1007 804.9 1007.5 821.2 1005 823.2 C1002.5 825.2 986.2 821.3 983.2 819.6 C980.2 817.9 978.3 810.6 978.9 808.8Z" fill="#000" stroke="#000" stroke-width="1.5"/>
<path d="M995 802.7 C996.4 800.7 1005 801 1007.1 800.3 C1009.2 799.6 1011.9 795.9 1013.1 796.7 C1014.3 797.5 1017 805.4 1017.3 807.5 C1017.6 809.6 1018.1 813.7 1015.5 814.8 C1012.9 815.9 997.4 818.6 995 817.2 C992.6 815.8 993.6 804.7 995 802.7Z" fill="#000" stroke="#000" stroke-width="1.5"/>
<path d="M966.9 818.4 L968.1 833.5" fill="none" stroke="#000" stroke-width="6"/>
<path d="M986.8 818.4 L988 834.1" fill="none" stroke="#000" stroke-width="6"/>
<path d="M997.6 818.4 L1000.1 832.3" fill="none" stroke="#000" stroke-width="6"/>
<path d="M997.4 817.2 L999.8 832.3" fill="none" stroke="#000" stroke-width="6"/>
<path d="M1007.1 817.2 L1010.1 829.9" fill="none" stroke="#000" stroke-width="6"/>
<path d="M1014.3 814.8 L1018.5 824.4" fill="none" stroke="#000" stroke-width="6"/>
<path d="M939.7 812.4 L941.6 819" fill="none" stroke="#000" stroke-width="4.5"/>
<path d="M950.6 815.4 L947.6 827.4" fill="none" stroke="#000" stroke-width="5.5"/>
<path d="M901.1 640.1 L915.6 655.8" fill="none" stroke="#000" stroke-width="3"/>
<path d="M879.4 683.5 L901.1 689" fill="none" stroke="#000" stroke-width="2.6"/>
<path d="M878.8 731.8 L898.7 731.8" fill="none" stroke="#000" stroke-width="2.6"/>
<path d="M895.1 779.8 L910.8 770.2" fill="none" stroke="#000" stroke-width="2.8"/>
<path d="M937.3 796.7 L927.7 823.2" fill="none" stroke="#000" stroke-width="4.5"/>
<path d="M1022.7 617.2 L1141.6 550.9" fill="none" stroke="#000" stroke-width="3.4"/>
<path d="M1141.6 550.9 L1198.8 683.5" fill="none" stroke="#000" stroke-width="3.6"/>
<path d="M1031.2 601.5 L1091.5 568.3 L1107.2 565.9" fill="none" stroke="#000" stroke-width="1.9"/>
<path d="M1192.8 672.7 L1083.1 734.2" fill="none" stroke="#000" stroke-width="2.2"/>
<path d="M1194 678.7 L1083.1 739.6" fill="none" stroke="#000" stroke-width="2"/>
<path d="M1189.2 685.3 L1083.1 744.5" fill="none" stroke="#000" stroke-width="1.9"/>
<path d="M1183.2 688.4 L1084.3 750" fill="none" stroke="#000" stroke-width="1.9" stroke-dasharray="2 2.5"/>
<path d="M1178.9 671.5 L1179.5 678.7 L1190.4 672.7" fill="none" stroke="#000" stroke-width="1.9"/>
<path d="M1198.8 683.5 L1188 689.6 L1144.6 717.3 L1109.6 746.9 L1106 747.5 L1101.1 743.8" fill="none" stroke="#000" stroke-width="1.9"/>
<path d="M1111.4 555.7 L1131.3 544.8 L1148.2 544.8 L1186.8 579.2 L1191.6 593.1 L1192.8 602.7 L1190.4 616 L1194 623.2 L1195.2 636.5 L1196.4 644.9 L1192.8 652.2 L1192.8 661.8" fill="none" stroke="#000" stroke-width="2"/>
<path d="M1107.2 558.1 L1141.6 550.9" fill="none" stroke="#000" stroke-width="2.6"/>
<path d="M1113.2 561.1 L1131.3 552.1" fill="none" stroke="#000" stroke-width="1.9"/>
<path d="M1148.2 553.3 C1149.6 553.3 1154.3 552.1 1156.6 553.3 C1158.9 554.5 1161.5 558.3 1162.1 560.5 C1162.7 562.7 1161.5 564.9 1160.2 566.5 C1158.9 568.1 1155.2 569.6 1154.2 570.2" fill="none" stroke="#000" stroke-width="1.9"/>
<ellipse cx="1182" cy="605.7" rx="9.5" ry="13.5" fill="none" stroke="#000" stroke-width="2.6"/>
<ellipse cx="1182.2" cy="605.7" rx="6.6" ry="10.2" fill="none" stroke="#000" stroke-width="1.9"/>
<path d="M1178.3 593.7 C1178.9 593 1180.7 589.6 1182 589.5 C1183.3 589.4 1185.5 592.5 1186.2 593.1" fill="none" stroke="#000" stroke-width="1.9"/>
<path d="M1163.3 594.3 L1178.3 593.7" fill="none" stroke="#000" stroke-width="1.9"/>
<path d="M1181.4 636.5 C1182.9 636.3 1188 634.1 1190.4 635.3 C1192.8 636.5 1195.1 641.1 1195.8 643.7 C1196.5 646.3 1195.7 649.4 1194.6 651 C1193.5 652.6 1190.1 653 1189.2 653.4" fill="none" stroke="#000" stroke-width="1.9"/>
<path d="M1174.7 620.8 L1183.2 619.6" fill="none" stroke="#000" stroke-width="1.9"/>
<ellipse cx="1025.2" cy="606.9" rx="7.2" ry="7.8" fill="none" stroke="#000" stroke-width="1.9"/>
<path d="M1019.1 599.7 L1002.2 601.5 L998.6 605.1 L1017.9 613.6" fill="none" stroke="#000" stroke-width="1.9"/>
<path d="M1081.2 740 L1081.2 753.3" fill="none" stroke="#000" stroke-width="2"/>
<path d="M1043.2 740 C1044.2 741.2 1045.9 747 1049.3 747.2 C1052.7 747.4 1061.4 742.2 1063.8 741.2" fill="none" stroke="#000" stroke-width="2"/>
<path d="M1099.9 740 C1101.1 741.1 1104 746.6 1107.2 746.6 C1110.4 746.6 1117.2 741.1 1119.2 740" fill="none" stroke="#000" stroke-width="2.4"/>
<path d="M1081.2 752.7 L1101.1 741.8" fill="none" stroke="#000" stroke-width="1.9"/>
<ellipse cx="972.9" cy="727.6" rx="17.4" ry="20.2" fill="none" stroke="#000" stroke-width="2" transform="rotate(10 972.9 727.6)"/>
<path d="M957.6 720.7 C957.1 719.6 953.8 714.7 953.8 712.4 C953.8 710.1 956.2 705.1 957.6 703.4 C959 701.7 962.6 700.1 964.5 699.6 C966.4 699.1 970.7 698.9 972 699.3 C973.3 699.7 973.6 701.6 974.1 702.7 C974.6 703.8 975.6 706.9 975.8 707.6" fill="none" stroke="#000" stroke-width="2"/>
<ellipse cx="973.1" cy="727" rx="10.6" ry="13.2" fill="none" stroke="#000" stroke-width="2.2" transform="rotate(8 973.1 727)"/>
<path d="M966.5 719.3 L1005.5 800" fill="none" stroke="#000" stroke-width="2"/>
<path d="M972 717.6 L1008.6 800" fill="none" stroke="#000" stroke-width="2"/>
<path d="M966.5 719.3 L972 717.6" fill="none" stroke="#000" stroke-width="2"/>
<path d="M1005.5 800 L1011.5 804.7" fill="none" stroke="#000" stroke-width="2"/>
<path d="M1008.6 800 L1014.4 803.5" fill="none" stroke="#000" stroke-width="2"/>
<ellipse cx="983" cy="664.7" rx="9.2" ry="10.9" fill="none" stroke="#000" stroke-width="1.9"/>
<ellipse cx="983.5" cy="665.5" rx="5.2" ry="6.5" fill="none" stroke="#000" stroke-width="1.9"/>
<path d="M979.4 666 L987.8 663.5" fill="none" stroke="#000" stroke-width="2.4"/>
<ellipse cx="1022.7" cy="751.7" rx="9.2" ry="10.9" fill="none" stroke="#000" stroke-width="2"/>
<path d="M1018.6 743.8 L1030.3 752.4 L1029.3 757.2 L1022.4 761.3 L1018.6 758.6Z" fill="#000" stroke="#000" stroke-width="1"/>
<path d="M994.4 713.8 L1018.2 698.1" fill="none" stroke="#000" stroke-width="5" stroke-linecap="butt"/>
<path d="M1006.2 720 L1027.2 707.6" fill="none" stroke="#000" stroke-width="3.6" stroke-linecap="butt"/>
<circle cx="1004.4" cy="707.2" r="0.9" fill="#fff"/>
<circle cx="1010.0" cy="704.1" r="0.9" fill="#fff"/>
<circle cx="1015.5" cy="700.7" r="0.9" fill="#fff"/>
<path d="M1054.1 771.4 C1054.2 772.4 1053.9 776.1 1054.7 777.4 C1055.5 778.7 1057.5 779.2 1058.9 779.2 C1060.3 779.2 1062.4 778.2 1063.2 777.4 C1064 776.6 1063.5 774.9 1063.5 774.4" fill="none" stroke="#000" stroke-width="1.9"/>
<path d="M963.3 600.3 L963.9 579.8 L967.5 575 L973.5 574.4 L978.3 579.8 L975.9 601.5" fill="none" stroke="#000" stroke-width="2"/>
<ellipse cx="971.1" cy="582.5" rx="4" ry="5.4" fill="none" stroke="#000" stroke-width="1.9"/>
<path d="M957.8 600.3 L961.2 578.6" fill="none" stroke="#000" stroke-width="1.9"/>
<path d="M959.6 600.3 L962.9 579.8" fill="none" stroke="#000" stroke-width="1.9"/>
<path d="M839.6 654.6 C839.9 656 840 660.2 841.4 663 C842.8 665.8 845.4 668.9 848.1 671.5 C850.8 674.1 853.9 677.3 857.7 678.7 C861.5 680.1 868.8 679.7 871 679.9" fill="none" stroke="#000" stroke-width="2"/>
<path d="M843.2 655.8 C843.4 657 843.5 660.7 844.5 663 C845.5 665.3 848.5 668.6 849.3 669.7" fill="none" stroke="#000" stroke-width="1.9"/>
<ellipse cx="850.7" cy="661.2" rx="4.6" ry="6" fill="none" stroke="#000" stroke-width="1.9"/>
<path d="M843.2 654 L852.9 652.8 L862.5 660.6 L858.9 675.1" fill="none" stroke="#000" stroke-width="1.9"/>
<path d="M862.5 660.6 L877 658.8" fill="none" stroke="#000" stroke-width="1.9"/>
<path d="M886.7 640.7 C884.3 641 875.4 641.6 872.2 642.5 C869 643.4 868.5 644.7 867.4 646.1 C866.3 647.5 865.4 649.1 865.6 651 C865.8 652.9 866.3 656.7 868.6 657.6 C870.9 658.5 877.6 656.6 879.4 656.4" fill="none" stroke="#000" stroke-width="1.9"/>
<path d="M871 679.9 L878.2 666.7" fill="none" stroke="#000" stroke-width="1.9"/>
<path d="M903.6 866 C903.3 864.1 901.7 858.1 901.7 854.6 C901.7 851.1 902.8 847.7 903.6 844.9 C904.4 842.1 906.1 838.9 906.6 837.7" fill="none" stroke="#000" stroke-width="2"/>
<path d="M906.6 837.7 L925.9 832.9" fill="none" stroke="#000" stroke-width="2"/>
<path d="M910.8 840.7 C912.2 841.3 920.9 845.6 921.7 847.4 C922.5 849.1 920 856.6 919.2 858.2 C918.4 859.8 915 862.6 913.8 863 C912.6 863.4 908.2 862.6 907.2 861.8 C906.2 861 904.1 856.6 904.2 854.6 C904.3 852.6 907.1 842.7 907.8 841.3 C908.5 839.9 909.4 840.1 910.8 840.7Z" fill="none" stroke="#000" stroke-width="1.9"/>
<ellipse cx="912.6" cy="854.6" rx="4.3" ry="5.8" fill="none" stroke="#000" stroke-width="1.9"/>
<path d="M921.7 847.4 L955.4 847.4" fill="none" stroke="#000" stroke-width="1.9"/>
<path d="M919.2 859.4 C922.6 860.4 932.2 864.3 939.7 865.4 C947.2 866.5 955.9 867 963.9 866 C971.9 865 981.1 862.1 988 859.4 C994.9 856.7 1002.2 851.4 1005 849.8" fill="none" stroke="#000" stroke-width="2.2"/>
<path d="M814.3 755.1 L825.2 748.4 L833.6 746.6 L835.4 750.9 L825.2 753.3 L827.6 769.6 L820.3 771.4Z" fill="none" stroke="#000" stroke-width="1.9"/>
<path d="M825.2 753.3 L817.3 756.3 L820.9 770.8" fill="none" stroke="#000" stroke-width="1.9"/>
<path d="M845.7 752.1 C844 752.4 833.3 753.9 831.2 754.5 C829.1 755.1 828.1 756.1 827.6 756.9 C827.1 757.7 826.7 760.3 827 761.1 C827.3 761.9 827.5 763.4 830 763.5 C832.5 763.6 846 761.9 848.1 761.7" fill="none" stroke="#000" stroke-width="1.9"/>
<ellipse cx="847.5" cy="756.9" rx="3.6" ry="4.8" fill="none" stroke="#000" stroke-width="1.9"/>
<path d="M827.6 769.6 L842 761.7" fill="none" stroke="#000" stroke-width="1.9"/>
<path d="M842.3 824.1 L853.1 817.4 L861.6 815.6 L863.4 819.9 L853.1 822.3 L855.6 838.5 L848.3 840.4Z" fill="none" stroke="#000" stroke-width="1.9"/>
<path d="M853.1 822.3 L845.3 825.3 L848.9 839.8" fill="none" stroke="#000" stroke-width="1.9"/>
<path d="M873.6 821.1 C871.9 821.4 861.3 822.9 859.2 823.5 C857.1 824.1 856.1 825.1 855.6 825.9 C855.1 826.7 854.6 829.3 854.9 830.1 C855.2 830.9 855.5 832.4 858 832.5 C860.5 832.6 874 830.9 876.1 830.7" fill="none" stroke="#000" stroke-width="1.9"/>
<ellipse cx="875.5" cy="825.9" rx="3.6" ry="4.8" fill="none" stroke="#000" stroke-width="1.9"/>
<path d="M855.6 838.5 L870 830.7" fill="none" stroke="#000" stroke-width="1.9"/>
<path d="M877 768.3 C875.1 768.4 865.1 768.5 862.5 768.9 C859.9 769.3 858.5 770.4 857.7 771.4 C856.9 772.4 856.6 774.8 856.5 776.2 C856.4 777.6 856.3 780.6 857.1 782.2 C857.9 783.8 860.5 787.5 862.5 788.2 C864.5 788.9 869.6 787.9 872.2 787.6 C874.8 787.3 880.5 786 881.8 785.8" fill="none" stroke="#000" stroke-width="1.9"/>
<ellipse cx="833" cy="796.7" rx="4.4" ry="5.6" fill="none" stroke="#000" stroke-width="1.9"/>
<path d="M831.2 794.3 L831.8 799.1" fill="none" stroke="#000" stroke-width="1.9"/>
<path d="M86.5 665 L1378.6 286.6 L1744 286.6 L1744 769 L349 1177.5 L86.5 1177.5Z" fill="none" stroke="#000" stroke-width="1.9"/>
<text x="1614.2 1629.8 1645.4 1661 1676.6" y="78" font-size="26.4" text-anchor="middle">F2530</text>
<text transform="scale(0.88 1)" x="1732.8 1753.3 1773.7 1794.1 1814.5" y="219.2" font-size="32.2" text-anchor="middle">25031</text>
<path d="M1562 226 L1562 286.6" fill="none" stroke="#000" stroke-width="1.9"/>
<text transform="scale(0.88 1)" x="1715.8 1736.2 1756.6 1777.1 1797.5" y="379.2" font-size="32.2" text-anchor="middle">25023</text>
<path d="M1546.6 385 L1546.6 446" fill="none" stroke="#000" stroke-width="1.9"/>
<text transform="scale(0.88 1)" x="1095.3 1115.8 1136.2 1156.6 1177" y="494.7" font-size="32.2" text-anchor="middle">28011</text>
<path d="M1000 500 L1000 559" fill="none" stroke="#000" stroke-width="1.9"/>
<text transform="scale(0.88 1)" x="603.3 623.7 644.1 664.6 685" y="641.7" font-size="32.2" text-anchor="middle">14091</text>
<path d="M565.4 648 L565.4 707" fill="none" stroke="#000" stroke-width="1.9"/>
<text transform="scale(0.88 1)" x="153.3 173.7 194.1 214.6 235" y="725.7" font-size="32.2" text-anchor="middle">92009</text>
<path d="M170.6 731 L170.6 794" fill="none" stroke="#000" stroke-width="1.9"/>
<text transform="scale(0.88 1)" x="238.5 258.9 279.4 299.8 320.2" y="1161.2" font-size="32.2" text-anchor="middle">92009</text>
<path d="M245.7 1070 L245.7 1130" fill="none" stroke="#000" stroke-width="1.9"/>
<text transform="scale(0.88 1)" x="537.4 557.8 578.2 598.6 619.1" y="1465.9" font-size="32.2" text-anchor="middle">92172</text>
<path d="M509 1471.6 L509 1529" fill="none" stroke="#000" stroke-width="1.9"/>
<text transform="scale(0.88 1)" x="366.9 387.4 407.8 428.2 448.6" y="1789.9" font-size="32.2" text-anchor="middle">92172</text>
<path d="M358.8 1697.7 L358.8 1758.8" fill="none" stroke="#000" stroke-width="1.9"/>
<text transform="scale(0.88 1)" x="767.5 787.9 808.3 828.8 849.2" y="2094.8" font-size="32.2" text-anchor="middle">92172</text>
<path d="M711.9 2002.8 L711.9 2064.8" fill="none" stroke="#000" stroke-width="1.9"/>
<text transform="scale(0.88 1)" x="1577.2 1597.6 1618 1638.4 1658.8" y="1370.2" font-size="32.2" text-anchor="middle">92160</text>
<path d="M1423.8 1376 L1423.8 1437" fill="none" stroke="#000" stroke-width="1.9"/>
<text transform="scale(0.88 1)" x="1502.7 1523.1 1543.6 1564 1584.4" y="1693.2" font-size="32.2" text-anchor="middle">92160</text>
<path d="M1357.2 1602.6 L1357.2 1663.7" fill="none" stroke="#000" stroke-width="1.9"/>
<text transform="scale(0.88 1)" x="1455.6 1476 1496.4 1516.8 1537.3" y="1901.2" font-size="32.2" text-anchor="middle">92160</text>
<path d="M1317.3 1811 L1317.3 1872.4" fill="none" stroke="#000" stroke-width="1.9"/>
<text transform="scale(0.8 1)" x="987 1009.2 1031.5 1053.8 1076 1098.2 1120.5 1142.8 1165 1187.2 1209.5" y="1414" font-size="30" text-anchor="middle">Ref.Cowling</text>
<path d="M879 1421 L879 1481.7" fill="none" stroke="#000" stroke-width="1.9"/>
<ellipse cx="233.1" cy="898.8" rx="22.4" ry="22.4" fill="none" stroke="#000" stroke-width="1.9"/>
<text transform="scale(0.8 1)" x="291.6" y="909.4" font-size="29" text-anchor="middle">A</text>
<ellipse cx="203.7" cy="966" rx="22.4" ry="22.4" fill="none" stroke="#000" stroke-width="1.9"/>
<text transform="scale(0.8 1)" x="254.9" y="976.4" font-size="29" text-anchor="middle">B</text>
<path d="M255.7 891 L314 875.6" fill="none" stroke="#000" stroke-width="1.9"/>
<path d="M226.8 959.6 L314 934.4" fill="none" stroke="#000" stroke-width="1.9"/>
<ellipse cx="1526.5" cy="1458.2" rx="21.7" ry="21.7" fill="none" stroke="#000" stroke-width="1.9"/>
<text transform="scale(0.8 1)" x="1907.8" y="1468.4" font-size="29" text-anchor="middle">A</text>
<ellipse cx="1466.8" cy="1562.9" rx="21.7" ry="21.7" fill="none" stroke="#000" stroke-width="1.9"/>
<text transform="scale(0.8 1)" x="1833.2" y="1573.6" font-size="29" text-anchor="middle">B</text>
<path d="M202 794 L287.7 767 L287.7 865 L341 851" fill="none" stroke="#000" stroke-width="1.9"/>
<path d="M273 1050 L352.8 1025" fill="none" stroke="#000" stroke-width="1.9"/>
<path d="M323 905 C322.7 898.9 322.2 886.7 322.8 881 C323.4 875.3 323.1 876.5 326.5 871 C329.9 865.5 332.8 859.7 343 848 C353.2 836.3 374.8 813.6 387.5 800.7 C400.2 787.8 411.3 777.2 419 770.5 C426.7 763.8 426.8 763.9 433.5 760.5 C440.2 757.1 441.6 757.5 459.3 750.4 C477.1 743.3 517 726.2 540 718 C563 709.8 577.5 706.4 597.4 700.9 C617.3 695.4 646.8 688 659.2 685.1 C671.7 682.2 669 683.3 672.1 683.2 C675.2 683.1 676 683.5 677.9 684.4 C679.8 685.3 681.2 687.9 683.6 688.7 C686 689.5 689.6 688.7 692.2 689.4 C694.8 690.1 693.6 688.6 699.4 693 C705.1 697.4 717.9 707.9 726.7 716 C735.6 724.1 747 735.6 752.5 741.8 C758 748 757.9 749.7 759.7 753.3 C761.5 756.9 762.6 759.2 763.3 763.3 C764 767.4 764.1 766.9 764 777.7 C763.9 788.5 763.3 815.1 762.6 828 C761.9 840.9 761.1 849.7 759.7 855.2 C758.3 860.7 764.3 853 754 861 C743.7 869 716.9 889 698 903 C679.1 917 653.9 935.4 640.5 944.7 C627.1 954 622.2 955.6 617.5 959 C612.8 962.4 613.9 962.1 612.5 964.8 C611.1 967.4 610.4 971.3 608.9 974.9 C607.4 978.5 605.1 982.6 603.2 986.4 C601.3 990.2 600.8 993.3 597.4 997.9 C594 1002.5 587.8 1009.2 583 1013.7 C578.2 1018.2 573.5 1021.6 568.7 1025 C563.9 1028.3 559.2 1031.1 554.4 1033.8 C549.6 1036.5 547.2 1037.9 540 1041 C532.8 1044.1 519.4 1050.1 511 1052.4 C502.6 1054.7 495.5 1054.5 489.5 1054.6 C483.5 1054.7 479.2 1053.8 475.1 1053.1 C471 1052.4 471.1 1049.4 465.1 1050.3 C459.1 1051.2 448.3 1055.5 439.2 1058.2 C430.1 1061 416.9 1065.1 410.5 1066.8 C404.1 1068.5 403.1 1068.5 400.5 1068.2 C397.9 1068 397.8 1067.9 394.7 1065.3 C391.6 1062.7 386.4 1057.4 381.8 1052.4 C377.2 1047.4 372.2 1041.9 367.4 1035.2 C362.6 1028.5 357.9 1020.8 353.1 1012.2 C348.3 1003.6 342.8 994.5 338.7 983.5 C334.6 972.5 331.1 957.2 328.7 946.2 C326.3 935.2 325.3 924.3 324.4 917.4 C323.4 910.5 323.3 911.1 323 905Z" fill="none" stroke="#000" stroke-width="2.2"/>
<path d="M753 859.5 C743.7 866.5 715.9 887.6 697 901.5 C678.1 915.4 652.9 933.7 639.5 943 C626.1 952.3 621.2 954 616.5 957.5 C611.8 961 612.5 961.2 611 964 C609.5 966.8 608.8 970.7 607.2 974.3 C605.6 977.9 603.4 981.8 601.5 985.6 C599.6 989.4 599.1 992.5 595.8 997 C592.5 1001.5 586.3 1008.1 581.6 1012.5 C576.9 1016.9 572.2 1020.2 567.5 1023.5 C562.8 1026.8 558.1 1029.3 553.5 1032 C548.9 1034.7 546.9 1036.6 539.8 1039.5 C532.7 1042.4 518.2 1047.7 511 1049.6 C503.8 1051.5 502.2 1051.2 496.7 1051 C491.2 1050.8 482.8 1049.1 478 1048.1 C473.2 1047.1 470.1 1045.7 468 1045.2 C465.9 1044.7 473.2 1042.9 465.1 1045.2 C457 1047.5 428.7 1056.3 419.1 1058.9 C409.5 1061.5 411 1060.8 407.6 1061 C404.2 1061.2 401.9 1061.5 399 1060.3 C396.1 1059.1 394.7 1058.1 390.4 1053.9 C386.1 1049.7 378.7 1042.4 373.2 1035.2 C367.7 1028 361.7 1018.5 357.4 1010.8 C353.1 1003.1 350.4 997.6 347.3 989.2 C344.2 980.8 341.2 971.2 338.7 960.5 C336.1 949.8 333.4 935.1 332 925 C330.6 914.9 330.4 906.8 330.1 900 C329.8 893.2 329.5 888.1 330.1 884 C330.7 879.9 329.1 881.5 333.7 875.3 C338.2 869.1 347 858.1 357.4 846.6 C367.8 835.1 384.9 817.6 396.2 806.4 C407.4 795.1 417.2 785.8 424.9 779.1 C432.5 772.4 434.9 770 442.1 766.2 C449.3 762.4 451.7 763.2 468 756.2 C484.3 749.2 516 733 540 724.3 C564 715.6 587.9 709.8 611.8 704 C635.7 698.2 671.6 692.2 683.6 689.8" fill="none" stroke="#000" stroke-width="1.9"/>
<path d="M442.1 768.5 C446.4 766.9 451.7 765.6 468 758.6 C484.3 751.6 516 735.5 540 726.8 C564 718.1 587.9 712.4 611.8 706.5 C635.7 700.6 671.6 694 683.6 691.5" fill="none" stroke="#000" stroke-width="1.9"/>
<path d="M346.6 897 C346.3 890.3 345.8 884.5 346.6 879.7 C347.4 874.9 346.9 874.9 351.6 868.2 C356.3 861.5 361.4 853.5 374.6 839.4 C387.8 825.3 418.9 794.9 430.6 783.4 C442.3 771.9 439.7 774.1 445 770.5 C450.3 766.9 443 769.4 462.2 761.9 C481.4 754.4 533.6 734.4 560 725.5 C586.4 716.6 601.2 713.8 620.4 708.8 C639.6 703.8 663.5 698.4 675 695.8 C686.5 693.2 686.1 693.1 689.3 693 C692.5 692.9 688.4 690.6 694.4 695.1 C700.4 699.6 716 712 725.2 720.3 C734.4 728.6 744.4 738.7 749.7 744.7 C755 750.7 755.1 752.4 756.8 756.2 C758.5 760 759.1 763.8 759.7 767.6 C760.3 771.4 760.5 769 760.4 779.1 C760.3 789.2 759.7 815.8 759 828 C758.3 840.2 757.4 847.4 756.1 852.4 C754.8 857.4 761.3 850 751.1 858.1 C740.9 866.2 713.8 887.2 695.1 900.9 C676.4 914.6 652.5 931.3 639.1 940.4 C625.7 949.5 619.7 951.9 614.7 955.5 C609.7 959.1 610.5 959 608.9 962 C607.3 965 606.7 969.8 605.3 973.4 C603.9 977 602.1 980.1 600.3 983.5 C598.5 986.9 597.7 989.2 594.6 993.5 C591.5 997.8 586.2 1004.8 581.6 1009.3 C577 1013.8 572.1 1017.4 567.3 1020.8 C562.5 1024.2 557.5 1027.1 552.9 1029.4 C548.3 1031.7 545.6 1032.8 539.8 1034.5 C534 1036.2 525.4 1038.7 518.2 1039.5 C511 1040.3 502.7 1040.1 496.7 1039.5 C490.7 1038.9 487.1 1036.1 482.3 1035.9 C477.5 1035.7 478.8 1035.3 468 1038.1 C457.2 1040.8 428.7 1052.7 417.7 1052.4 C406.7 1052.2 406.4 1041.6 401.9 1036.6 C397.3 1031.6 393.8 1026.4 390.4 1022.3 C387 1018.2 385.1 1017.2 381.8 1012.2 C378.5 1007.2 373.9 999.3 370.3 992.1 C366.7 984.9 363.2 976.8 360.3 969.1 C357.4 961.5 355.1 954.4 353.1 946.2 C351.1 938 349.4 928.2 348.3 920 C347.2 911.8 346.9 903.7 346.6 897Z" fill="none" stroke="#000" stroke-width="1.9"/>
<path d="M397 1033 C394.9 1029.3 388.5 1018 384.5 1011 C380.5 1004 376.6 998.1 373 991 C369.4 983.9 365.8 976 363 968.5 C360.2 961 358 954.6 356 946 C354 937.4 352.1 928 351 917 C349.9 906 349.1 887.9 349.7 880 C350.3 872.1 349.9 876 354.5 869.5 C359.1 863 364 855 377 841 C390 827 420.8 796.8 432.5 785.5 C444.2 774.2 441.8 776.5 447 773 C452.2 769.5 461.2 765.9 464 764.5" fill="none" stroke="#000" stroke-width="1.9"/>
<path d="M386.8 801.4 C387.1 799.4 387.3 792.6 388.3 789.2 C389.3 785.9 389.4 783.9 392.6 781.3 C395.8 778.7 403.4 775.4 407.6 773.7 C411.8 772 416 771.6 417.7 771.2" fill="none" stroke="#000" stroke-width="1.9"/>
<path d="M675 695.8 C680.6 700.4 724.5 736 731 741.8 C737.5 747.5 738.5 751.1 739.6 753.3 C740.8 755.4 742.1 761 742.5 763.3 C742.9 765.6 743.8 769.3 743.9 776.3 C744 783.3 744.2 825.8 743.9 833.7 C743.6 841.6 742.3 852.2 741 855.2 C739.7 858.2 743.4 854.8 731 863.9 C718.6 873 628.9 938 617.5 946.2" fill="none" stroke="#000" stroke-width="1.9"/>
<path d="M741 855.2 L735 866" fill="none" stroke="#000" stroke-width="1.9"/>
<path d="M735 866 L622 947.5" fill="none" stroke="#000" stroke-width="1.9"/>
<path d="M649.9 700.9 C649.9 702.2 650.5 725.9 650.6 727.4 C650.7 728.9 650.9 730.8 651.3 731 C651.7 731.2 656.9 730 659.2 731.7 C661.5 733.4 695.3 763.1 697.2 764.8" fill="none" stroke="#000" stroke-width="1.9"/>
<path d="M703.7 783.4 C703.9 786 705.3 790.8 705.1 799.2 C704.9 807.6 702.8 828 702.3 833.7" fill="none" stroke="#000" stroke-width="1.9"/>
<path d="M700.8 839.4 L581.6 924.6 L583 928 L588 929.5" fill="none" stroke="#000" stroke-width="1.9"/>
<path d="M505.3 775.5 L560 754.7 L614.7 740.4" fill="none" stroke="#000" stroke-width="1.9"/>
<path d="M350.9 894 L423.4 815.7" fill="none" stroke="#000" stroke-width="1.9"/>
<path d="M422.7 799.2 C423.1 803 423.6 815.1 424.9 822.2 C426.2 829.3 428.2 837.4 430.6 841.6 C433 845.8 433.9 845.9 439.2 847.3 C444.5 848.7 453.8 850.4 462.2 850.2 C470.6 850 481.4 848 489.5 845.9 C497.6 843.8 506.8 840.3 511 837.3 C515.2 834.3 513.9 832.7 514.6 828 C515.3 823.3 515.6 815 515.3 809.3 C514.9 803.5 513.7 798.3 512.5 793.5 C511.3 788.7 510.1 783.5 508.2 780.6 C506.3 777.7 505.3 777.5 501 776.3 C496.7 775.1 487.8 773.9 482.3 773.4 C476.8 772.9 474.2 772.4 468 773.1 C461.8 773.8 448.8 776.9 445 777.7" fill="none" stroke="#000" stroke-width="1.9"/>
<path d="M430.6 789.9 C436.2 787.9 493.5 783.7 499.5 783.4 C505.5 783.1 502.6 784.3 503.1 786.3 C503.6 788.3 505.6 804.4 506 807.9 C506.4 811.4 508.3 825.9 508.2 828 C508.1 830.1 507.5 833 505.3 833.7 C503.1 834.4 487.3 836.1 482.3 836.6 C477.3 837.1 448.7 840 445 840.2 C441.3 840.4 438.8 840.1 437.8 839.4 C436.8 838.7 434 834.9 433.5 832.3 C433 829.7 432 811.4 431.8 807.9 C431.6 804.4 425 791.9 430.6 789.9Z" fill="none" stroke="#000" stroke-width="1.9"/>
<path d="M476.6 786.3 C477.6 788.9 481 797.1 482.3 802.1 C483.6 807.1 484.4 811 484.5 816.5 C484.6 822 483.2 832 483 835.1" fill="none" stroke="#000" stroke-width="1.9"/>
<path d="M500.7 785.6 C501.1 789.3 502.3 800.7 503.1 807.9 C503.9 815.1 505.2 825.2 505.6 828.7" fill="none" stroke="#000" stroke-width="1.9"/>
<path d="M434.9 787.7 L444.3 779.9 L445 788.5 L434.9 788.5" fill="none" stroke="#000" stroke-width="1.9"/>
<path d="M396.9 850.2 L601.7 791.3" fill="none" stroke="#000" stroke-width="1.9" stroke-dasharray="12 11"/>
<path d="M521.1 743.2 C521.5 745.4 523.5 752.1 523.2 756.2 C523 760.3 522.1 765 519.6 767.6 C517.1 770.2 511.8 772 508.2 772 C504.6 772 500.4 770.2 498.1 767.6 C495.8 765 495.1 758.1 494.5 756.2" fill="none" stroke="#000" stroke-width="1.9"/>
<path d="M488.8 756.2 C488.8 758.1 487.7 764.5 488.8 767.6 C489.9 770.7 492.4 773.5 495.2 774.8 C497.9 776.1 503.6 775.4 505.3 775.5" fill="none" stroke="#000" stroke-width="1.9"/>
<ellipse cx="508.9" cy="754.7" rx="4.3" ry="5" fill="none" stroke="#000" stroke-width="1.9"/>
<path d="M399 822.2 C399.7 823.6 402.8 827.4 403.3 830.8 C403.8 834.1 403.3 839.2 401.9 842.3 C400.5 845.4 397.3 848.2 394.7 849.5 C392.1 850.8 388.7 851 386.1 850.2 C383.5 849.4 380.1 845.5 378.9 844.5" fill="none" stroke="#000" stroke-width="1.9"/>
<ellipse cx="389.4" cy="834.4" rx="3.8" ry="4.2" fill="none" stroke="#000" stroke-width="1.9"/>
<path d="M371.7 852.4 L384.7 852.4 L373.2 858.1 L381.8 856.7" fill="none" stroke="#000" stroke-width="1.9"/>
<path d="M624 708.1 C623.9 711.3 622.9 722.5 623.3 727.4 C623.7 732.3 624.3 734.9 626.2 737.5 C628.1 740.1 631.9 742.4 634.8 743.2 C637.7 744 641 743.7 643.4 742.5 C645.8 741.3 647.9 738.6 649.1 736.1 C650.3 733.6 650.4 728.9 650.6 727.4" fill="none" stroke="#000" stroke-width="1.9"/>
<path d="M619.7 708.8 C619 711.4 616.2 719.6 615.4 724.6 C614.6 729.6 614.2 735.5 614.7 738.9 C615.2 742.2 615.4 743.7 618.3 744.7 C621.2 745.7 629.6 744.7 631.9 744.7" fill="none" stroke="#000" stroke-width="1.9"/>
<ellipse cx="636.9" cy="726" rx="4.6" ry="5.5" fill="none" stroke="#000" stroke-width="1.9"/>
<path d="M729.5 744 C726.6 745 716.8 747.4 712.3 749.7 C707.8 752 704.7 754.6 702.3 757.6 C699.9 760.6 698.5 764.5 698 767.6 C697.5 770.7 698.2 773.7 699.4 776.3 C700.6 778.9 702.5 782 705.1 783.4 C707.7 784.8 711.6 784.9 715.2 784.9 C718.8 784.9 722 785 726.7 783.4 C731.4 781.8 740.5 776.8 743.2 775.5" fill="none" stroke="#000" stroke-width="1.9"/>
<ellipse cx="724.1" cy="765.9" rx="4.4" ry="5.2" fill="none" stroke="#000" stroke-width="1.9"/>
<path d="M714.5 751.8 C713.9 752.6 711.5 755.3 710.9 756.9 C710.3 758.5 710.9 760.5 710.9 761.2" fill="none" stroke="#000" stroke-width="1.9"/>
<path d="M713.8 777 C714.5 777.7 716.8 780.2 718.1 781.3 C719.4 782.4 721 783 721.6 783.4" fill="none" stroke="#000" stroke-width="1.9"/>
<path d="M743.2 833.7 C741.4 832.6 735.4 828.4 732.4 827.2 C729.4 826 728.6 826.2 725.2 826.5 C721.9 826.8 715.9 827.5 712.3 828.7 C708.7 829.9 705.4 831.4 703.7 833.7 C702 836 702.1 839.4 702.3 842.3 C702.5 845.2 703 848 705.1 850.9 C707.2 853.8 710.9 857.3 715.2 859.5 C719.5 861.7 728.4 863.2 731 863.9" fill="none" stroke="#000" stroke-width="1.9"/>
<ellipse cx="727.8" cy="844.5" rx="4.4" ry="5.2" fill="none" stroke="#000" stroke-width="1.9"/>
<path d="M718.8 829.4 C718.1 830.4 715.3 833.4 714.5 835.1 C713.7 836.8 713.9 838.7 713.8 839.4" fill="none" stroke="#000" stroke-width="1.9"/>
<path d="M715.2 851.6 C715.8 852.7 717.1 856.3 718.8 858.1 C720.5 859.9 724.1 861.7 725.2 862.4" fill="none" stroke="#000" stroke-width="1.9"/>
<ellipse cx="386.1" cy="885.4" rx="18.3" ry="17.2" fill="none" stroke="#000" stroke-width="1.9"/>
<path d="M379.1 877.7 C378.8 878.9 376.6 882.5 377 885.4 C377.3 888.3 380.3 893.3 381 894.9" fill="none" stroke="#000" stroke-width="1.9"/>
<ellipse cx="577.6" cy="768.4" rx="18" ry="17" fill="none" stroke="#000" stroke-width="1.9"/>
<path d="M570.8 760.8 C570.4 762 568.3 765.6 568.6 768.4 C568.9 771.2 571.9 776.2 572.6 777.8" fill="none" stroke="#000" stroke-width="1.9"/>
<ellipse cx="662.3" cy="834.4" rx="17.6" ry="16.8" fill="none" stroke="#000" stroke-width="1.9"/>
<path d="M655.6 826.8 C655.3 828.1 653.2 831.6 653.5 834.4 C653.8 837.2 656.7 842.1 657.4 843.6" fill="none" stroke="#000" stroke-width="1.9"/>
<ellipse cx="441.8" cy="964.8" rx="18.3" ry="17.4" fill="none" stroke="#000" stroke-width="1.9"/>
<path d="M434.8 957 C434.5 958.3 432.3 961.9 432.7 964.8 C433 967.7 436 972.8 436.7 974.4" fill="none" stroke="#000" stroke-width="1.9"/>
<ellipse cx="423.4" cy="901.9" rx="13.6" ry="13.9" fill="none" stroke="#000" stroke-width="1.9"/>
<path d="M418.9 877.3 L421.9 877.3 L426.4 889.3 L419.4 890.3Z" fill="#000" stroke="#000" stroke-width="1.7"/>
<path d="M421.9 914.5 L422.9 927.5 L425.9 927.5 L427.9 914.5" fill="none" stroke="#000" stroke-width="1.9"/>
<path d="M399.8 902.9 L421.4 902.4" fill="none" stroke="#000" stroke-width="2.7"/>
<path d="M400.8 903.9 L415.8 903.4" fill="none" stroke="#fff" stroke-width="1"/>
<ellipse cx="439.5" cy="899.9" rx="2" ry="2.3" fill="none" stroke="#000" stroke-width="1.9"/>
<path d="M417.4 894.3 L414.4 900.3" fill="none" stroke="#000" stroke-width="1.9"/>
<ellipse cx="629" cy="783.4" rx="13.6" ry="13.9" fill="none" stroke="#000" stroke-width="1.9"/>
<path d="M624.5 758.8 L627.5 758.8 L632 770.8 L625 771.8Z" fill="#000" stroke="#000" stroke-width="1.7"/>
<path d="M627.5 796 L628.5 809 L631.5 809 L633.5 796" fill="none" stroke="#000" stroke-width="1.9"/>
<path d="M605.4 784.4 L627 783.9" fill="none" stroke="#000" stroke-width="2.7"/>
<path d="M606.4 785.4 L621.4 784.9" fill="none" stroke="#fff" stroke-width="1"/>
<ellipse cx="645.1" cy="781.4" rx="2" ry="2.3" fill="none" stroke="#000" stroke-width="1.9"/>
<path d="M623 775.8 L620 781.8" fill="none" stroke="#000" stroke-width="1.9"/>
<path d="M553.6 730.3 L550.8 744.7 L561.5 744.7 L557.2 730.3" fill="none" stroke="#000" stroke-width="1.9"/>
<path d="M557.2 730.3 L559.4 744.7" fill="none" stroke="#000" stroke-width="2.4"/>
<path d="M386.1 944.7 C386.4 941.6 387.9 940.6 390.4 939.7 C392.9 938.8 404.8 936.7 407.6 936.8 C410.4 936.9 413.8 939 414.8 940.4 C415.8 941.8 416.4 946.2 416.3 949 C416.2 951.8 414.9 962.5 414.1 964.8 C413.3 967.1 411.9 968.3 409.1 969.1 C406.3 969.9 392.9 971.6 390.4 971.3 C387.9 971 388 969.4 387.5 966.3 C387 963.2 385.8 947.8 386.1 944.7Z" fill="none" stroke="#000" stroke-width="2"/>
<path d="M401.9 941.1 C403.6 940.2 407.4 940.2 409.1 941.1 C410.8 942 412 942.5 412.2 946.2 C412.4 949.9 411.3 959.7 410.5 963.4 C409.7 967.1 409.2 967.7 407.6 968.4 C406.1 969.1 402.8 968.8 401.2 967.7 C399.6 966.6 398.3 965.6 397.9 962 C397.5 958.4 398.3 949.7 399 946.2 C399.7 942.7 400.2 942 401.9 941.1Z" fill="none" stroke="#000" stroke-width="2.2"/>
<path d="M404.1 944.7 C405 944.2 406.8 944.3 407.6 945 C408.4 945.7 409.1 946.4 409.1 949 C409.2 951.6 408.4 958 407.9 960.5 C407.4 963 406.7 963.3 405.9 963.7 C405.1 964.1 403.8 963.9 403 963.1 C402.2 962.3 401.4 961.6 401.3 959.1 C401.2 956.6 401.7 950.7 402.2 948.3 C402.7 945.9 403.2 945.2 404.1 944.7Z" fill="none" stroke="#000" stroke-width="2"/>
<path d="M359.5 953.3 C361.8 952.8 369.5 950.5 373.2 950.5 C376.9 950.5 379.4 951.1 381.8 953.3 C384.2 955.4 386.4 959.8 387.5 963.4 C388.6 967 389.2 971.5 388.3 974.9 C387.4 978.2 384.6 981.2 381.8 983.5 C379 985.8 373.4 987.7 371.7 988.5" fill="none" stroke="#000" stroke-width="2"/>
<ellipse cx="373.9" cy="968" rx="4.3" ry="4.6" fill="none" stroke="#000" stroke-width="1.9"/>
<path d="M359.5 956.5 L368.2 951.9" fill="none" stroke="#000" stroke-width="1.9"/>
<ellipse cx="512.5" cy="971.3" rx="21.2" ry="18.4" fill="none" stroke="#000" stroke-width="2" transform="rotate(-12 512.5 971.3)"/>
<ellipse cx="518.6" cy="970.6" rx="4.4" ry="5.6" fill="none" stroke="#000" stroke-width="1.9"/>
<ellipse cx="518.6" cy="970.6" rx="2" ry="2.8" fill="none" stroke="#000" stroke-width="1.9"/>
<path d="M506 962.7 C506.2 962 506.6 959.6 507.4 958.4 C508.2 957.2 510.4 956 511 955.5" fill="none" stroke="#000" stroke-width="1.9"/>
<path d="M507.4 979.9 C507.9 980.6 509.2 983.1 510.3 984.2 C511.4 985.3 513.3 986 513.9 986.4" fill="none" stroke="#000" stroke-width="1.9"/>
<path d="M510.3 972.7 L516.8 970.6" fill="none" stroke="#000" stroke-width="1.9"/>
<path d="M390.4 1015.8 C391.4 1016.5 393.8 1019.3 396.2 1020.1 C398.6 1020.9 400 1021.5 404.8 1020.5 C409.6 1019.5 419.2 1016.5 424.9 1014.4 C430.6 1012.3 435.4 1009.3 439.2 1007.9 C443 1006.5 445 1006 447.9 1005.7 C450.8 1005.4 453.1 1005.6 456.5 1006.2 C459.9 1006.8 463.7 1008.4 468 1009.3 C472.3 1010.2 477.5 1011.5 482.3 1011.5 C487.1 1011.5 491.9 1010.6 496.7 1009.3 C501.5 1008 506.2 1006 511 1003.6 C515.8 1001.2 521.6 997.6 525.4 995 C529.2 992.4 531.4 990.4 534 987.8 C536.6 985.2 539.1 982.1 541.2 979.2 C543.4 976.3 546 972 546.9 970.6" fill="none" stroke="#000" stroke-width="2"/>
<path d="M427.7 1014.4 C427.4 1016 425.4 1020.7 425.6 1023.7 C425.9 1026.7 426.9 1028.5 429.2 1032.3 C431.5 1036.1 437.5 1044.3 439.2 1046.7" fill="none" stroke="#000" stroke-width="1.9"/>
<path d="M439.2 1018 C439.7 1016.8 440.7 1012.4 442.1 1010.8 C443.6 1009.2 445.8 1008.9 447.9 1008.6 C450 1008.4 452.9 1008.2 455 1009.3 C457.1 1010.4 459.1 1012.5 460.8 1015.1 C462.5 1017.7 463.8 1021.4 465.1 1025.1 C466.4 1028.8 468.1 1035.3 468.7 1037.3" fill="none" stroke="#000" stroke-width="1.9"/>
<ellipse cx="450.7" cy="1026.6" rx="4.1" ry="5.5" fill="none" stroke="#000" stroke-width="1.9"/>
<path d="M437.8 1030.9 L440.7 1045.2" fill="none" stroke="#000" stroke-width="1.9"/>
<path d="M526.8 1012.2 L537.6 1011.5 L544.1 1028 L539.8 1029.4Z" fill="none" stroke="#000" stroke-width="1.9"/>
<path d="M534 1012.2 L537.6 1011.5 L544.1 1028 L541.2 1028.9Z" fill="#000" stroke="#000" stroke-width="1.5"/>
<path d="M351.6 928.9 L366 930.4 L365.3 934.7 L356 936.1 L357.4 940.4" fill="none" stroke="#000" stroke-width="1.9"/>
<path d="M373.2 991.4 L392.6 998.6 L391.8 1003.6 L378.9 1002.2" fill="none" stroke="#000" stroke-width="1.9"/>
<path d="M380.4 1005 L386.8 1006.5 L384.7 1016.5Z" fill="#000" stroke="#000" stroke-width="1.5"/>
<path d="M336.6 927.5 L397.6 909.5" fill="none" stroke="#000" stroke-width="1.9" stroke-dasharray="13 11"/>
<path d="M370.3 1018 L499.5 977" fill="none" stroke="#000" stroke-width="1.9" stroke-dasharray="13 11"/>
<path d="M491.2 890.9 C488.9 891 480.7 890.8 477.3 891.6 C473.9 892.4 472.1 894.1 470.8 895.9 C469.5 897.7 469.3 900.1 469.4 902.4 C469.5 904.7 470.2 907.7 471.5 909.5 C472.8 911.3 474 912.9 477.3 913.4 C480.6 913.9 488.9 912.6 491.2 912.4" fill="none" stroke="#000" stroke-width="1.9"/>
<ellipse cx="491.2" cy="901.6" rx="8" ry="10.6" fill="none" stroke="#000" stroke-width="2.6"/>
<ellipse cx="491.2" cy="901.6" rx="5.2" ry="7.4" fill="none" stroke="#000" stroke-width="2.2"/>
<ellipse cx="568" cy="949.7" rx="12.6" ry="12.9" fill="none" stroke="#000" stroke-width="1.9"/>
<path d="M563.5 926.1 L566.5 926.1 L571 938.1 L564 939.1Z" fill="#000" stroke="#000" stroke-width="1.7"/>
<path d="M566.5 961.3 L567.5 974.3 L570.5 974.3 L572.5 961.3" fill="none" stroke="#000" stroke-width="1.9"/>
<path d="M545.4 950.7 L566 950.2" fill="none" stroke="#000" stroke-width="2.7"/>
<path d="M546.4 951.7 L561.4 951.2" fill="none" stroke="#fff" stroke-width="1"/>
<ellipse cx="583.1" cy="947.7" rx="2" ry="2.3" fill="none" stroke="#000" stroke-width="1.9"/>
<path d="M562 943.1 L559 949.1" fill="none" stroke="#000" stroke-width="1.9"/>
<path d="M575.9 933.2 C577.1 932.5 579.5 930 583.1 928.9 C586.7 927.8 593.8 926.8 597.4 926.8 C601 926.8 602.4 927.6 604.6 928.9 C606.8 930.2 608.4 931.7 610.4 934.7 C612.4 937.7 615.7 944.9 616.8 946.9" fill="none" stroke="#000" stroke-width="2"/>
<path d="M593.1 928.9 C592.1 929.9 588.6 932.8 587.4 934.7 C586.2 936.6 586 937.5 586 940.4 C586 943.3 586.2 948.1 587.4 951.9 C588.6 955.7 592.1 961.5 593.1 963.4" fill="none" stroke="#000" stroke-width="1.9"/>
<path d="M616.8 946.9 C614.8 948 608.1 951 604.6 953.3 C601.1 955.6 597.9 958.5 596 960.5 C594.1 962.5 593.6 964.7 593.1 965.5" fill="none" stroke="#000" stroke-width="2"/>
<ellipse cx="600.3" cy="945.2" rx="4.7" ry="6" fill="none" stroke="#000" stroke-width="1.9"/>
<path d="M575.9 933.2 C576.6 934.4 579.2 936.8 580.2 940.4 C581.2 944 581.8 951.2 581.6 954.8 C581.4 958.4 578.5 960 578.8 962 C579 964 580.8 966.4 583.1 967 C585.4 967.6 590.9 965.8 592.4 965.5" fill="none" stroke="#000" stroke-width="1.9"/>
<path d="M592.4 965.5 C592 967.1 591.8 972.6 590.3 974.9 C588.8 977.2 585.7 978.5 583.1 979.2 C580.5 979.9 575.9 979.2 574.5 979.2" fill="none" stroke="#000" stroke-width="1.9"/>
<path d="M554.4 979.2 C554.7 977.6 557.7 974 558.7 973.4 C559.7 972.8 562.5 972.1 564.4 973.4 C566.3 974.7 575.9 984.2 577.3 986.4 C578.7 988.6 579.2 993.6 578.8 995 C578.4 996.4 574.3 999.5 573 1000 C571.7 1000.5 567.5 1001.1 565.8 1000 C564.1 998.9 556.9 991.3 555.8 989.2 C554.7 987.1 554.1 980.8 554.4 979.2Z" fill="none" stroke="#000" stroke-width="2"/>
<path d="M557.9 982.1 C558.3 981.2 560.8 978.8 561.5 978.5 C562.2 978.2 563.9 978.3 565.1 979.2 C566.3 980.1 572.8 986.4 573.7 987.8 C574.6 989.2 574.1 991.9 573.7 992.8 C573.4 993.7 571 996.1 570.2 996.4 C569.4 996.7 567 996.6 565.8 995.7 C564.6 994.8 558.7 988.5 557.9 987.1 C557.1 985.7 557.5 983 557.9 982.1Z" fill="none" stroke="#000" stroke-width="2.6"/>
<path d="M558.7 973.4 C558.1 973.4 554 973.7 552.9 973.4 C551.8 973.1 548.5 970 547.2 970.6 C545.9 971.2 540.6 977.6 540 979.2 C539.4 980.8 540.8 985.1 541.4 986.4 C542 987.7 543.5 990.5 545.7 992.1 C547.9 993.8 560.4 1001.9 563 1002.9 C565.6 1003.9 569.7 1003.3 571.6 1002.2 C573.5 1001.1 579.9 994.4 581.6 992.1 C583.3 989.8 587.6 981.8 588.8 979.2 C589.9 976.6 592.7 967.6 593.1 966.3" fill="none" stroke="#000" stroke-width="2"/>
<path d="M547.2 970.6 L548.6 969.1 L553.6 973.4Z" fill="#000" stroke="#000" stroke-width="1.6"/>
<ellipse cx="173.4" cy="803.8" rx="9.2" ry="10.6" fill="none" stroke="#000" stroke-width="2.3"/>
<path d="M174.9 798.2 L200.3 790.9 L205.1 793.2 L205.9 796 L204 800.2 L182.5 806.4" fill="#fff" stroke="#000" stroke-width="2"/>
<ellipse cx="174.6" cy="803.5" rx="5.6" ry="5.3" fill="#fff" stroke="#000" stroke-width="2.3"/>
<path d="M177.8 797.3 C177.6 798 176.3 800.1 176.4 801.4 C176.4 802.7 177.2 804.2 177.9 805.1 C178.7 806 180.5 806.5 181 806.8" fill="none" stroke="#000" stroke-width="1.9"/>
<path d="M182.1 796.1 C181.9 796.8 180.6 798.9 180.7 800.2 C180.7 801.5 181.5 803 182.2 803.9 C183 804.8 184.8 805.3 185.3 805.6" fill="none" stroke="#000" stroke-width="1.9"/>
<path d="M186.4 794.9 C186.2 795.5 184.9 797.6 185 798.9 C185 800.2 185.8 801.7 186.5 802.6 C187.3 803.5 189.1 804.1 189.6 804.3" fill="none" stroke="#000" stroke-width="1.9"/>
<path d="M190.7 793.6 C190.5 794.3 189.2 796.4 189.3 797.7 C189.3 799 190.1 800.5 190.8 801.4 C191.6 802.3 193.4 802.8 193.9 803.1" fill="none" stroke="#000" stroke-width="1.9"/>
<path d="M195 792.4 C194.8 793.1 193.5 795.2 193.6 796.5 C193.6 797.8 194.4 799.3 195.2 800.2 C195.9 801.1 197.7 801.6 198.2 801.9" fill="none" stroke="#000" stroke-width="1.9"/>
<path d="M199.3 791.2 C199.1 791.8 197.9 793.9 197.9 795.2 C197.9 796.5 198.7 798 199.5 798.9 C200.2 799.8 202 800.4 202.6 800.6" fill="none" stroke="#000" stroke-width="1.9"/>
<path d="M200.7 796 L204.5 794.9" fill="none" stroke="#000" stroke-width="2"/>
<path d="M201.4 793.2 L202.8 798" fill="none" stroke="#000" stroke-width="1.9"/>
<ellipse cx="243.9" cy="1059.5" rx="9.2" ry="10.6" fill="none" stroke="#000" stroke-width="2.3"/>
<path d="M245.4 1053.9 L269.3 1046.7 L274.2 1049 L275 1051.8 L273.1 1056 L253 1062" fill="#fff" stroke="#000" stroke-width="2"/>
<ellipse cx="245.1" cy="1059.2" rx="5.6" ry="5.3" fill="#fff" stroke="#000" stroke-width="2.3"/>
<path d="M248.2 1053 C248 1053.7 246.8 1055.8 246.8 1057.1 C246.9 1058.4 247.7 1059.9 248.4 1060.8 C249.2 1061.7 251 1062.2 251.6 1062.4" fill="none" stroke="#000" stroke-width="1.9"/>
<path d="M252.3 1051.8 C252 1052.5 250.8 1054.6 250.9 1055.9 C250.9 1057.2 251.7 1058.7 252.5 1059.6 C253.3 1060.5 255.1 1061 255.6 1061.3" fill="none" stroke="#000" stroke-width="1.9"/>
<path d="M256.3 1050.6 C256.1 1051.3 254.9 1053.4 254.9 1054.7 C254.9 1056 255.7 1057.5 256.5 1058.4 C257.3 1059.3 259.1 1059.8 259.6 1060.1" fill="none" stroke="#000" stroke-width="1.9"/>
<path d="M260.3 1049.4 C260.1 1050.1 258.9 1052.2 258.9 1053.5 C259 1054.8 259.8 1056.3 260.5 1057.2 C261.3 1058.1 263.1 1058.6 263.6 1058.9" fill="none" stroke="#000" stroke-width="1.9"/>
<path d="M264.4 1048.2 C264.1 1048.9 262.9 1051 263 1052.3 C263 1053.6 263.8 1055.1 264.6 1056 C265.4 1056.9 267.2 1057.4 267.7 1057.7" fill="none" stroke="#000" stroke-width="1.9"/>
<path d="M268.4 1047 C268.2 1047.7 266.9 1049.8 267 1051.1 C267 1052.4 267.8 1053.9 268.6 1054.8 C269.4 1055.7 271.2 1056.2 271.7 1056.5" fill="none" stroke="#000" stroke-width="1.9"/>
<path d="M269.8 1051.8 L273.6 1050.7" fill="none" stroke="#000" stroke-width="2"/>
<path d="M270.5 1049 L272 1053.8" fill="none" stroke="#000" stroke-width="1.9"/>
<ellipse cx="496.2" cy="1556.1" rx="22.2" ry="29.1" fill="none" stroke="#000" stroke-width="2"/>
<path d="M494.1 1547.6 L540.9 1546.6 L544 1548.9 L544.6 1556.3 L541.8 1559 L495.3 1564.8 L492.1 1561.5 L490.7 1556.5 L491.3 1551.3Z" fill="#fff" stroke="#000" stroke-width="2.2"/>
<path d="M500.1 1547.4 C499.5 1548.2 497 1550 496.4 1551.9 C495.8 1553.8 495.6 1556.6 496.4 1558.6 C497.1 1560.7 500.1 1563.2 500.8 1564.2" fill="none" stroke="#000" stroke-width="2.4"/>
<path d="M502.5 1551 C502.1 1551.7 500.4 1553.6 500 1555 C499.6 1556.4 499.6 1558.1 500.2 1559.6 C500.7 1561.1 502.8 1563.2 503.3 1564" fill="none" stroke="#000" stroke-width="2"/>
<path d="M500.8 1563.6 L504.2 1563.1" fill="none" stroke="#000" stroke-width="3"/>
<path d="M506.9 1547.2 C506.3 1548 503.9 1549.8 503.2 1551.5 C502.6 1553.3 502.5 1556 503.2 1558 C503.9 1560 506.9 1562.5 507.6 1563.4" fill="none" stroke="#000" stroke-width="2.4"/>
<path d="M509.4 1550.7 C509 1551.3 507.3 1553.1 506.9 1554.5 C506.5 1555.9 506.4 1557.5 507 1559 C507.5 1560.4 509.6 1562.5 510.1 1563.2" fill="none" stroke="#000" stroke-width="2"/>
<path d="M507.6 1562.8 L511 1562.3" fill="none" stroke="#000" stroke-width="3"/>
<path d="M513.8 1547.1 C513.2 1547.7 510.7 1549.5 510.1 1551.2 C509.4 1552.9 509.3 1555.5 510 1557.4 C510.7 1559.3 513.7 1561.7 514.4 1562.5" fill="none" stroke="#000" stroke-width="2.4"/>
<path d="M516.2 1550.4 C515.8 1551 514.1 1552.7 513.7 1554.1 C513.3 1555.4 513.3 1556.9 513.8 1558.3 C514.3 1559.7 516.4 1561.7 516.9 1562.4" fill="none" stroke="#000" stroke-width="2"/>
<path d="M514.4 1561.9 L517.8 1561.5" fill="none" stroke="#000" stroke-width="3"/>
<path d="M520.6 1546.9 C520 1547.5 517.5 1549.2 516.9 1550.9 C516.3 1552.5 516.1 1555 516.8 1556.8 C517.6 1558.6 520.5 1560.9 521.2 1561.7" fill="none" stroke="#000" stroke-width="2.4"/>
<path d="M523.1 1550 C522.6 1550.6 520.9 1552.3 520.5 1553.6 C520.1 1554.9 520.1 1556.4 520.6 1557.7 C521.1 1559 523.2 1560.9 523.7 1561.6" fill="none" stroke="#000" stroke-width="2"/>
<path d="M521.2 1561.1 L524.6 1560.7" fill="none" stroke="#000" stroke-width="3"/>
<path d="M527.5 1546.7 C526.9 1547.3 524.4 1548.9 523.7 1550.5 C523.1 1552.1 523 1554.5 523.7 1556.2 C524.4 1558 527.3 1560.1 528 1560.9" fill="none" stroke="#000" stroke-width="2.4"/>
<path d="M529.9 1549.7 C529.5 1550.3 527.8 1551.9 527.3 1553.1 C526.9 1554.3 526.9 1555.8 527.4 1557 C528 1558.3 530 1560.1 530.5 1560.7" fill="none" stroke="#000" stroke-width="2"/>
<path d="M528 1560.3 L531.4 1559.9" fill="none" stroke="#000" stroke-width="3"/>
<path d="M534.3 1546.5 C533.7 1547.1 531.2 1548.7 530.6 1550.2 C529.9 1551.7 529.8 1554 530.5 1555.7 C531.2 1557.3 534.1 1559.4 534.8 1560.1" fill="none" stroke="#000" stroke-width="2.4"/>
<path d="M536.7 1549.4 C536.3 1549.9 534.6 1551.5 534.2 1552.7 C533.8 1553.8 533.7 1555.2 534.2 1556.4 C534.8 1557.6 536.8 1559.4 537.3 1559.9" fill="none" stroke="#000" stroke-width="2"/>
<path d="M534.8 1559.5 L538.3 1559.1" fill="none" stroke="#000" stroke-width="3"/>
<path d="M535.4 1554.5 L541.8 1559 L544.6 1556.3 L543.4 1553.9 L540.6 1556.3Z" fill="#000" stroke="#000" stroke-width="1"/>
<path d="M534.9 1547.1 L540.9 1546.6" fill="none" stroke="#000" stroke-width="3"/>
<path d="M544.3 1552.3 L721.9 1534.9" fill="none" stroke="#000" stroke-width="1.9"/>
<ellipse cx="359.6" cy="1669.3" rx="22.2" ry="29.1" fill="none" stroke="#000" stroke-width="2"/>
<path d="M357.3 1660.9 L404.3 1659.1 L407.5 1661.3 L408.1 1668.7 L405.4 1671.4 L358.9 1678 L355.6 1674.8 L354.1 1669.8 L354.7 1664.6Z" fill="#fff" stroke="#000" stroke-width="2.2"/>
<path d="M363.3 1660.6 C362.7 1661.3 360.3 1663.2 359.7 1665.1 C359.1 1667 359.1 1669.8 359.8 1671.8 C360.6 1673.8 363.6 1676.4 364.3 1677.3" fill="none" stroke="#000" stroke-width="2.4"/>
<path d="M365.9 1664.1 C365.5 1664.8 363.8 1666.7 363.4 1668.1 C363 1669.6 363.1 1671.2 363.6 1672.7 C364.2 1674.2 366.3 1676.3 366.8 1677.1" fill="none" stroke="#000" stroke-width="2"/>
<path d="M364.3 1676.7 L367.7 1676.2" fill="none" stroke="#000" stroke-width="3"/>
<path d="M370.2 1660.3 C369.6 1661 367.2 1662.8 366.6 1664.6 C366 1666.4 365.9 1669.1 366.7 1671.1 C367.4 1673.1 370.4 1675.5 371.2 1676.4" fill="none" stroke="#000" stroke-width="2.4"/>
<path d="M372.7 1663.7 C372.3 1664.3 370.6 1666.2 370.3 1667.5 C369.9 1668.9 369.9 1670.5 370.5 1672 C371 1673.4 373.1 1675.4 373.6 1676.1" fill="none" stroke="#000" stroke-width="2"/>
<path d="M371.1 1675.8 L374.6 1675.3" fill="none" stroke="#000" stroke-width="3"/>
<path d="M377.1 1660 C376.5 1660.7 374.1 1662.4 373.5 1664.2 C372.9 1665.9 372.8 1668.5 373.5 1670.4 C374.3 1672.3 377.2 1674.6 378 1675.4" fill="none" stroke="#000" stroke-width="2.4"/>
<path d="M379.6 1663.2 C379.2 1663.9 377.5 1665.6 377.1 1667 C376.7 1668.3 376.7 1669.8 377.3 1671.2 C377.9 1672.6 379.9 1674.6 380.5 1675.2" fill="none" stroke="#000" stroke-width="2"/>
<path d="M377.9 1674.8 L381.4 1674.3" fill="none" stroke="#000" stroke-width="3"/>
<path d="M384 1659.7 C383.4 1660.3 380.9 1662 380.3 1663.7 C379.7 1665.4 379.6 1667.9 380.4 1669.7 C381.1 1671.5 384.1 1673.7 384.8 1674.5" fill="none" stroke="#000" stroke-width="2.4"/>
<path d="M386.5 1662.8 C386 1663.4 384.4 1665.1 384 1666.4 C383.6 1667.7 383.6 1669.2 384.1 1670.5 C384.7 1671.8 386.8 1673.7 387.3 1674.3" fill="none" stroke="#000" stroke-width="2"/>
<path d="M384.7 1673.9 L388.2 1673.4" fill="none" stroke="#000" stroke-width="3"/>
<path d="M390.9 1659.4 C390.2 1660 387.8 1661.7 387.2 1663.3 C386.6 1664.9 386.5 1667.3 387.2 1669 C387.9 1670.7 390.9 1672.8 391.6 1673.6" fill="none" stroke="#000" stroke-width="2.4"/>
<path d="M393.3 1662.4 C392.9 1662.9 391.2 1664.6 390.8 1665.8 C390.4 1667 390.4 1668.5 391 1669.7 C391.5 1671 393.6 1672.8 394.1 1673.4" fill="none" stroke="#000" stroke-width="2"/>
<path d="M391.6 1673 L395 1672.5" fill="none" stroke="#000" stroke-width="3"/>
<path d="M397.7 1659.1 C397.1 1659.7 394.7 1661.3 394.1 1662.8 C393.4 1664.3 393.3 1666.6 394 1668.3 C394.8 1669.9 397.7 1671.9 398.4 1672.7" fill="none" stroke="#000" stroke-width="2.4"/>
<path d="M400.2 1661.9 C399.8 1662.5 398.1 1664 397.7 1665.2 C397.3 1666.4 397.3 1667.8 397.8 1669 C398.4 1670.2 400.4 1671.9 400.9 1672.5" fill="none" stroke="#000" stroke-width="2"/>
<path d="M398.4 1672.1 L401.9 1671.6" fill="none" stroke="#000" stroke-width="3"/>
<path d="M398.9 1667 L405.4 1671.4 L408.1 1668.7 L406.9 1666.3 L404.1 1668.8Z" fill="#000" stroke="#000" stroke-width="1"/>
<path d="M398.3 1659.6 L404.3 1659.1" fill="none" stroke="#000" stroke-width="3"/>
<path d="M407.8 1664.1 L598.9 1646.2" fill="none" stroke="#000" stroke-width="1.9"/>
<ellipse cx="713" cy="1974.5" rx="22.2" ry="29.1" fill="none" stroke="#000" stroke-width="2"/>
<path d="M710.9 1966 L757.6 1965.2 L760.7 1967.5 L761.3 1974.9 L758.4 1977.6 L712.1 1983.2 L708.9 1979.9 L707.5 1974.9 L708.2 1969.7Z" fill="#fff" stroke="#000" stroke-width="2.2"/>
<path d="M716.9 1965.8 C716.3 1966.6 713.8 1968.4 713.2 1970.3 C712.6 1972.2 712.4 1975 713.2 1977 C713.9 1979.1 716.8 1981.6 717.6 1982.6" fill="none" stroke="#000" stroke-width="2.4"/>
<path d="M719.4 1969.4 C718.9 1970.1 717.2 1972 716.8 1973.4 C716.4 1974.8 716.4 1976.5 716.9 1978 C717.5 1979.5 719.5 1981.7 720.1 1982.4" fill="none" stroke="#000" stroke-width="2"/>
<path d="M717.5 1982 L721 1981.5" fill="none" stroke="#000" stroke-width="3"/>
<path d="M723.7 1965.7 C723.1 1966.4 720.7 1968.2 720 1970 C719.4 1971.8 719.3 1974.5 720 1976.4 C720.7 1978.4 723.6 1980.9 724.4 1981.8" fill="none" stroke="#000" stroke-width="2.4"/>
<path d="M726.2 1969.1 C725.8 1969.8 724 1971.6 723.6 1973 C723.2 1974.3 723.2 1976 723.7 1977.4 C724.3 1978.8 726.3 1980.9 726.8 1981.6" fill="none" stroke="#000" stroke-width="2"/>
<path d="M724.3 1981.2 L727.8 1980.8" fill="none" stroke="#000" stroke-width="3"/>
<path d="M730.6 1965.5 C730 1966.2 727.5 1967.9 726.8 1969.7 C726.2 1971.4 726.1 1974 726.8 1975.9 C727.5 1977.8 730.4 1980.2 731.1 1981" fill="none" stroke="#000" stroke-width="2.4"/>
<path d="M733 1968.9 C732.6 1969.5 730.9 1971.2 730.5 1972.5 C730 1973.8 730 1975.4 730.5 1976.8 C731.1 1978.2 733.1 1980.2 733.6 1980.8" fill="none" stroke="#000" stroke-width="2"/>
<path d="M731.1 1980.4 L734.6 1980" fill="none" stroke="#000" stroke-width="3"/>
<path d="M737.4 1965.4 C736.8 1966 734.3 1967.7 733.7 1969.4 C733 1971 732.9 1973.5 733.6 1975.3 C734.3 1977.1 737.2 1979.4 737.9 1980.2" fill="none" stroke="#000" stroke-width="2.4"/>
<path d="M739.8 1968.6 C739.4 1969.1 737.7 1970.8 737.3 1972.1 C736.8 1973.4 736.8 1974.9 737.3 1976.2 C737.9 1977.5 739.9 1979.4 740.4 1980.1" fill="none" stroke="#000" stroke-width="2"/>
<path d="M737.9 1979.6 L741.4 1979.2" fill="none" stroke="#000" stroke-width="3"/>
<path d="M744.2 1965.2 C743.6 1965.8 741.1 1967.4 740.5 1969 C739.8 1970.6 739.7 1973 740.4 1974.8 C741.1 1976.5 744 1978.7 744.7 1979.5" fill="none" stroke="#000" stroke-width="2.4"/>
<path d="M746.6 1968.3 C746.2 1968.8 744.5 1970.4 744.1 1971.6 C743.7 1972.9 743.6 1974.3 744.1 1975.6 C744.7 1976.8 746.7 1978.7 747.2 1979.3" fill="none" stroke="#000" stroke-width="2"/>
<path d="M744.7 1978.9 L748.1 1978.4" fill="none" stroke="#000" stroke-width="3"/>
<path d="M751.1 1965.1 C750.4 1965.7 747.9 1967.2 747.3 1968.7 C746.7 1970.3 746.5 1972.5 747.2 1974.2 C747.9 1975.9 750.8 1977.9 751.5 1978.7" fill="none" stroke="#000" stroke-width="2.4"/>
<path d="M753.5 1968 C753 1968.5 751.3 1970 750.9 1971.2 C750.5 1972.4 750.4 1973.7 750.9 1975 C751.5 1976.2 753.5 1977.9 754 1978.5" fill="none" stroke="#000" stroke-width="2"/>
<path d="M751.4 1978.1 L754.9 1977.6" fill="none" stroke="#000" stroke-width="3"/>
<path d="M752.1 1973.1 L758.4 1977.6 L761.3 1974.9 L760.1 1972.5 L757.2 1974.9Z" fill="#000" stroke="#000" stroke-width="1"/>
<path d="M751.6 1965.6 L757.6 1965.2" fill="none" stroke="#000" stroke-width="3"/>
<path d="M1405.5 1495.7 C1404.8 1495.5 1402.9 1494.9 1401.7 1494.4 C1400.4 1493.8 1399.2 1493.1 1398.1 1492.3 C1396.9 1491.4 1395.8 1490.5 1394.8 1489.4 C1393.8 1488.4 1392.9 1487.2 1392 1485.9 C1391.2 1484.6 1390.4 1483.2 1389.8 1481.8 C1389.1 1480.4 1388.6 1478.8 1388.1 1477.3 C1387.7 1475.7 1387.3 1474.1 1387.1 1472.5 C1386.9 1470.8 1386.7 1469.2 1386.7 1467.5 C1386.7 1465.8 1386.9 1464.2 1387.1 1462.5 C1387.3 1460.9 1387.7 1459.3 1388.1 1457.7 C1388.6 1456.2 1389.1 1454.6 1389.8 1453.2 C1390.4 1451.8 1391.2 1450.4 1392 1449.1 C1392.9 1447.8 1393.8 1446.6 1394.8 1445.6 C1395.8 1444.5 1396.9 1443.6 1398.1 1442.7 C1399.2 1441.9 1400.4 1441.2 1401.7 1440.6 C1402.9 1440.1 1404.8 1439.5 1405.5 1439.3" fill="none" stroke="#000" stroke-width="2"/>
<path d="M1412.9 1496.4 C1412.2 1496.2 1410.2 1495.7 1408.9 1495.1 C1407.7 1494.5 1406.4 1493.8 1405.3 1492.9 C1404.1 1492.1 1403 1491.1 1402 1490 C1400.9 1488.9 1400 1487.7 1399.1 1486.4 C1398.2 1485.1 1397.4 1483.6 1396.8 1482.2 C1396.1 1480.7 1395.5 1479.1 1395.1 1477.5 C1394.6 1475.9 1394.2 1474.3 1394 1472.6 C1393.8 1470.9 1393.7 1469.2 1393.7 1467.5 C1393.7 1465.8 1393.8 1464.1 1394 1462.4 C1394.2 1460.7 1394.6 1459.1 1395.1 1457.5 C1395.5 1455.9 1396.1 1454.3 1396.8 1452.8 C1397.4 1451.4 1398.2 1449.9 1399.1 1448.6 C1400 1447.3 1400.9 1446.1 1402 1445 C1403 1443.9 1404.1 1442.9 1405.3 1442.1 C1406.4 1441.2 1407.7 1440.5 1408.9 1439.9 C1410.2 1439.3 1412.2 1438.8 1412.9 1438.6" fill="none" stroke="#000" stroke-width="2"/>
<path d="M1419.8 1496.8 C1419.1 1496.6 1417.1 1496.1 1415.8 1495.5 C1414.5 1494.9 1413.3 1494.2 1412.1 1493.3 C1410.9 1492.4 1409.8 1491.4 1408.7 1490.3 C1407.7 1489.2 1406.7 1488 1405.8 1486.7 C1404.9 1485.3 1404.1 1483.9 1403.5 1482.4 C1402.8 1480.9 1402.2 1479.3 1401.7 1477.7 C1401.3 1476.1 1400.9 1474.4 1400.7 1472.7 C1400.4 1471 1400.3 1469.2 1400.3 1467.5 C1400.3 1465.8 1400.4 1464 1400.7 1462.3 C1400.9 1460.6 1401.3 1458.9 1401.7 1457.3 C1402.2 1455.7 1402.8 1454.1 1403.5 1452.6 C1404.1 1451.1 1404.9 1449.7 1405.8 1448.3 C1406.7 1447 1407.7 1445.8 1408.7 1444.7 C1409.8 1443.6 1410.9 1442.6 1412.1 1441.7 C1413.3 1440.8 1414.5 1440.1 1415.8 1439.5 C1417.1 1438.9 1419.1 1438.4 1419.8 1438.2" fill="none" stroke="#000" stroke-width="2"/>
<path d="M1405.5 1439.3 L1429.4 1437.9" fill="none" stroke="#000" stroke-width="2"/>
<path d="M1405.5 1495.7 L1429.4 1497.1" fill="none" stroke="#000" stroke-width="2"/>
<ellipse cx="1430.4" cy="1467.5" rx="23.6" ry="29.8" fill="#fff" stroke="#000" stroke-width="2"/>
<ellipse cx="1430.9" cy="1467.5" rx="12.4" ry="14.9" fill="none" stroke="#000" stroke-width="2"/>
<path d="M1421.9 1461.5 C1421.8 1462.5 1421.1 1465.5 1421.2 1467.5 C1421.3 1469.5 1422.2 1472.5 1422.4 1473.5" fill="none" stroke="#000" stroke-width="1.9"/>
<path d="M1430.4 1467 L1504.8 1460.5" fill="none" stroke="#000" stroke-width="1.9"/>
<path d="M1376.1 1472.6 L990 1510.2" fill="none" stroke="#000" stroke-width="1.9"/>
<path d="M1338 1601.6 C1337.3 1601.4 1335.4 1600.8 1334.2 1600.3 C1332.9 1599.7 1331.7 1599 1330.6 1598.2 C1329.4 1597.3 1328.3 1596.4 1327.3 1595.3 C1326.3 1594.3 1325.4 1593.1 1324.5 1591.8 C1323.7 1590.5 1322.9 1589.1 1322.3 1587.7 C1321.6 1586.3 1321.1 1584.7 1320.6 1583.2 C1320.2 1581.6 1319.8 1580 1319.6 1578.4 C1319.4 1576.7 1319.2 1575.1 1319.2 1573.4 C1319.2 1571.7 1319.4 1570.1 1319.6 1568.4 C1319.8 1566.8 1320.2 1565.2 1320.6 1563.6 C1321.1 1562.1 1321.6 1560.5 1322.3 1559.1 C1322.9 1557.7 1323.7 1556.3 1324.5 1555 C1325.4 1553.7 1326.3 1552.5 1327.3 1551.5 C1328.3 1550.4 1329.4 1549.5 1330.6 1548.6 C1331.7 1547.8 1332.9 1547.1 1334.2 1546.5 C1335.4 1546 1337.3 1545.4 1338 1545.2" fill="none" stroke="#000" stroke-width="2"/>
<path d="M1345.4 1602.3 C1344.7 1602.1 1342.7 1601.6 1341.4 1601 C1340.2 1600.4 1338.9 1599.7 1337.8 1598.8 C1336.6 1598 1335.5 1597 1334.5 1595.9 C1333.4 1594.8 1332.5 1593.6 1331.6 1592.3 C1330.7 1591 1329.9 1589.5 1329.3 1588.1 C1328.6 1586.6 1328 1585 1327.6 1583.4 C1327.1 1581.8 1326.7 1580.2 1326.5 1578.5 C1326.3 1576.8 1326.2 1575.1 1326.2 1573.4 C1326.2 1571.7 1326.3 1570 1326.5 1568.3 C1326.7 1566.6 1327.1 1565 1327.6 1563.4 C1328 1561.8 1328.6 1560.2 1329.3 1558.7 C1329.9 1557.3 1330.7 1555.8 1331.6 1554.5 C1332.5 1553.2 1333.4 1552 1334.5 1550.9 C1335.5 1549.8 1336.6 1548.8 1337.8 1548 C1338.9 1547.1 1340.2 1546.4 1341.4 1545.8 C1342.7 1545.2 1344.7 1544.7 1345.4 1544.5" fill="none" stroke="#000" stroke-width="2"/>
<path d="M1352.3 1602.7 C1351.6 1602.5 1349.6 1602 1348.3 1601.4 C1347 1600.8 1345.8 1600.1 1344.6 1599.2 C1343.4 1598.3 1342.3 1597.3 1341.2 1596.2 C1340.2 1595.1 1339.2 1593.9 1338.3 1592.6 C1337.4 1591.2 1336.6 1589.8 1336 1588.3 C1335.3 1586.8 1334.7 1585.2 1334.2 1583.6 C1333.8 1582 1333.4 1580.3 1333.2 1578.6 C1332.9 1576.9 1332.8 1575.1 1332.8 1573.4 C1332.8 1571.7 1332.9 1569.9 1333.2 1568.2 C1333.4 1566.5 1333.8 1564.8 1334.2 1563.2 C1334.7 1561.6 1335.3 1560 1336 1558.5 C1336.6 1557 1337.4 1555.6 1338.3 1554.2 C1339.2 1552.9 1340.2 1551.7 1341.2 1550.6 C1342.3 1549.5 1343.4 1548.5 1344.6 1547.6 C1345.8 1546.7 1347 1546 1348.3 1545.4 C1349.6 1544.8 1351.6 1544.3 1352.3 1544.1" fill="none" stroke="#000" stroke-width="2"/>
<path d="M1338 1545.2 L1361.9 1543.8" fill="none" stroke="#000" stroke-width="2"/>
<path d="M1338 1601.6 L1361.9 1603" fill="none" stroke="#000" stroke-width="2"/>
<ellipse cx="1362.9" cy="1573.4" rx="23.6" ry="29.8" fill="#fff" stroke="#000" stroke-width="2"/>
<ellipse cx="1363.4" cy="1573.4" rx="12.4" ry="14.9" fill="none" stroke="#000" stroke-width="2"/>
<path d="M1354.4 1567.4 C1354.3 1568.4 1353.6 1571.4 1353.7 1573.4 C1353.8 1575.4 1354.7 1578.4 1354.9 1579.4" fill="none" stroke="#000" stroke-width="1.9"/>
<path d="M1362.9 1573 L1444.3 1566" fill="none" stroke="#000" stroke-width="1.9"/>
<path d="M1307 1578.8 L770 1630" fill="none" stroke="#000" stroke-width="1.9"/>
<path d="M1301.7 1808.3 C1301 1808.1 1299.1 1807.5 1297.9 1807 C1296.6 1806.4 1295.4 1805.7 1294.3 1804.9 C1293.1 1804 1292 1803.1 1291 1802 C1290 1801 1289.1 1799.8 1288.2 1798.5 C1287.4 1797.2 1286.6 1795.8 1286 1794.4 C1285.3 1793 1284.8 1791.4 1284.3 1789.9 C1283.9 1788.3 1283.5 1786.7 1283.3 1785.1 C1283.1 1783.4 1282.9 1781.8 1282.9 1780.1 C1282.9 1778.4 1283.1 1776.8 1283.3 1775.1 C1283.5 1773.5 1283.9 1771.9 1284.3 1770.3 C1284.8 1768.8 1285.3 1767.2 1286 1765.8 C1286.6 1764.4 1287.4 1763 1288.2 1761.7 C1289.1 1760.4 1290 1759.2 1291 1758.2 C1292 1757.1 1293.1 1756.2 1294.3 1755.3 C1295.4 1754.5 1296.6 1753.8 1297.9 1753.2 C1299.1 1752.7 1301 1752.1 1301.7 1751.9" fill="none" stroke="#000" stroke-width="2"/>
<path d="M1309.1 1809 C1308.4 1808.8 1306.4 1808.3 1305.1 1807.7 C1303.9 1807.1 1302.6 1806.4 1301.5 1805.5 C1300.3 1804.7 1299.2 1803.7 1298.2 1802.6 C1297.1 1801.5 1296.2 1800.3 1295.3 1799 C1294.4 1797.7 1293.6 1796.2 1293 1794.8 C1292.3 1793.3 1291.7 1791.7 1291.3 1790.1 C1290.8 1788.5 1290.4 1786.9 1290.2 1785.2 C1290 1783.5 1289.9 1781.8 1289.9 1780.1 C1289.9 1778.4 1290 1776.7 1290.2 1775 C1290.4 1773.3 1290.8 1771.7 1291.3 1770.1 C1291.7 1768.5 1292.3 1766.9 1293 1765.4 C1293.6 1764 1294.4 1762.5 1295.3 1761.2 C1296.2 1759.9 1297.1 1758.7 1298.2 1757.6 C1299.2 1756.5 1300.3 1755.5 1301.5 1754.7 C1302.6 1753.8 1303.9 1753.1 1305.1 1752.5 C1306.4 1751.9 1308.4 1751.4 1309.1 1751.2" fill="none" stroke="#000" stroke-width="2"/>
<path d="M1316 1809.4 C1315.3 1809.2 1313.3 1808.7 1312 1808.1 C1310.7 1807.5 1309.5 1806.8 1308.3 1805.9 C1307.1 1805 1306 1804 1304.9 1802.9 C1303.9 1801.8 1302.9 1800.6 1302 1799.3 C1301.1 1797.9 1300.3 1796.5 1299.7 1795 C1299 1793.5 1298.4 1791.9 1297.9 1790.3 C1297.5 1788.7 1297.1 1787 1296.9 1785.3 C1296.6 1783.6 1296.5 1781.8 1296.5 1780.1 C1296.5 1778.4 1296.6 1776.6 1296.9 1774.9 C1297.1 1773.2 1297.5 1771.5 1297.9 1769.9 C1298.4 1768.3 1299 1766.7 1299.7 1765.2 C1300.3 1763.7 1301.1 1762.3 1302 1760.9 C1302.9 1759.6 1303.9 1758.4 1304.9 1757.3 C1306 1756.2 1307.1 1755.2 1308.3 1754.3 C1309.5 1753.4 1310.7 1752.7 1312 1752.1 C1313.3 1751.5 1315.3 1751 1316 1750.8" fill="none" stroke="#000" stroke-width="2"/>
<path d="M1301.7 1751.9 L1325.6 1750.5" fill="none" stroke="#000" stroke-width="2"/>
<path d="M1301.7 1808.3 L1325.6 1809.7" fill="none" stroke="#000" stroke-width="2"/>
<ellipse cx="1326.6" cy="1780.1" rx="23.6" ry="29.8" fill="#fff" stroke="#000" stroke-width="2"/>
<ellipse cx="1327.1" cy="1780.1" rx="12.4" ry="14.9" fill="none" stroke="#000" stroke-width="2"/>
<path d="M1318.1 1774.1 C1318 1775.1 1317.3 1778.1 1317.4 1780.1 C1317.5 1782.1 1318.4 1785.1 1318.6 1786.1" fill="none" stroke="#000" stroke-width="1.9"/>
<path d="M1266.8 1786.5 L1158.9 1796.1 L1158.6 1652.6 L923.5 1674.8" fill="none" stroke="#000" stroke-width="1.9"/>
</svg>
</body></html>
